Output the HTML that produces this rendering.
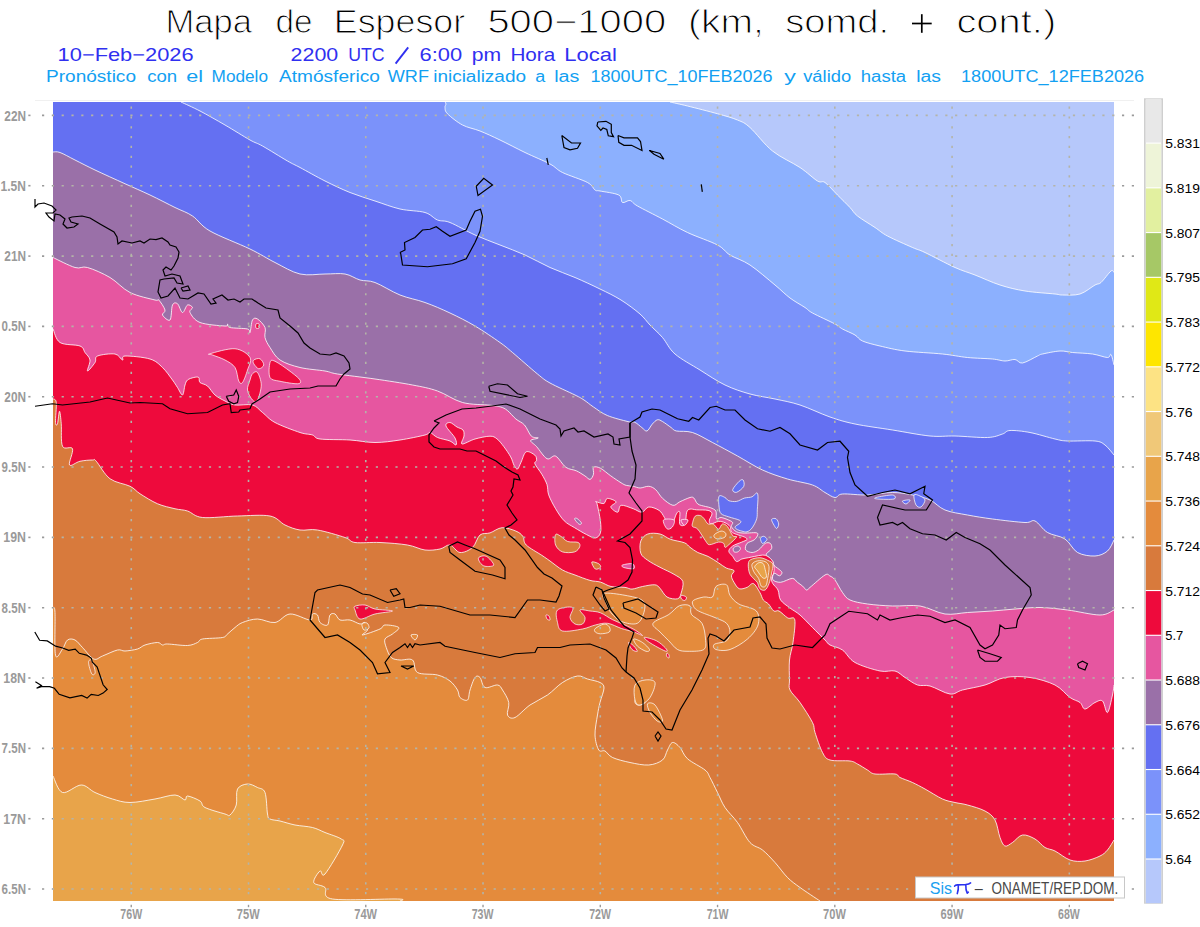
<!DOCTYPE html>
<html><head><meta charset="utf-8"><style>
html,body{margin:0;padding:0;background:#fff;width:1200px;height:927px;overflow:hidden}
svg{display:block}
text{font-family:"Liberation Sans",sans-serif}
</style></head><body>
<svg width="1200" height="927" viewBox="0 0 1200 927">
<rect x="0" y="0" width="1200" height="927" fill="#fff"/>

<text x="165.40" y="33.4" font-size="32.8" fill="#000" textLength="86.60" lengthAdjust="spacingAndGlyphs" stroke="#fff" stroke-width="1.0" paint-order="fill">Mapa</text>
<text x="275.40" y="33.4" font-size="32.8" fill="#000" textLength="37.00" lengthAdjust="spacingAndGlyphs" stroke="#fff" stroke-width="1.0" paint-order="fill">de</text>
<text x="333.80" y="33.4" font-size="32.8" fill="#000" textLength="131.40" lengthAdjust="spacingAndGlyphs" stroke="#fff" stroke-width="1.0" paint-order="fill">Espesor</text>
<text x="487.40" y="33.4" font-size="32.8" fill="#000" textLength="178.80" lengthAdjust="spacingAndGlyphs" stroke="#fff" stroke-width="1.0" paint-order="fill">500−1000</text>
<text x="688.00" y="33.4" font-size="32.8" fill="#000" textLength="76.00" lengthAdjust="spacingAndGlyphs" stroke="#fff" stroke-width="1.0" paint-order="fill">(km,</text>
<text x="785.20" y="33.4" font-size="32.8" fill="#000" textLength="103.80" lengthAdjust="spacingAndGlyphs" stroke="#fff" stroke-width="1.0" paint-order="fill">somd.</text>
<text x="956.40" y="33.4" font-size="32.8" fill="#000" textLength="99.80" lengthAdjust="spacingAndGlyphs" stroke="#fff" stroke-width="1.0" paint-order="fill">cont.)</text>
<text x="57.60" y="60.8" font-size="18.1" fill="#3030f0" textLength="136.00" lengthAdjust="spacingAndGlyphs">10−Feb−2026</text>
<text x="290.60" y="60.8" font-size="18.1" fill="#3030f0" textLength="47.60" lengthAdjust="spacingAndGlyphs">2200</text>
<text x="348.20" y="60.8" font-size="18.1" fill="#3030f0" textLength="36.40" lengthAdjust="spacingAndGlyphs">UTC</text>
<text x="419.60" y="60.8" font-size="18.1" fill="#3030f0" textLength="42.60" lengthAdjust="spacingAndGlyphs">6:00</text>
<text x="471.80" y="60.8" font-size="18.1" fill="#3030f0" textLength="29.40" lengthAdjust="spacingAndGlyphs">pm</text>
<text x="510.40" y="60.8" font-size="18.1" fill="#3030f0" textLength="44.80" lengthAdjust="spacingAndGlyphs">Hora</text>
<text x="564.20" y="60.8" font-size="18.1" fill="#3030f0" textLength="52.60" lengthAdjust="spacingAndGlyphs">Local</text>
<text x="46.00" y="81.9" font-size="15.6" fill="#12a0f2" textLength="90.00" lengthAdjust="spacingAndGlyphs">Pronóstico</text>
<text x="147.20" y="81.9" font-size="15.6" fill="#12a0f2" textLength="30.00" lengthAdjust="spacingAndGlyphs">con</text>
<text x="186.20" y="81.9" font-size="15.6" fill="#12a0f2" textLength="16.80" lengthAdjust="spacingAndGlyphs">el</text>
<text x="211.60" y="81.9" font-size="15.6" fill="#12a0f2" textLength="56.40" lengthAdjust="spacingAndGlyphs">Modelo</text>
<text x="279.00" y="81.9" font-size="15.6" fill="#12a0f2" textLength="100.80" lengthAdjust="spacingAndGlyphs">Atmósferico</text>
<text x="387.80" y="81.9" font-size="15.6" fill="#12a0f2" textLength="41.20" lengthAdjust="spacingAndGlyphs">WRF</text>
<text x="433.20" y="81.9" font-size="15.6" fill="#12a0f2" textLength="92.80" lengthAdjust="spacingAndGlyphs">inicializado</text>
<text x="535.20" y="81.9" font-size="15.6" fill="#12a0f2" textLength="10.00" lengthAdjust="spacingAndGlyphs">a</text>
<text x="554.20" y="81.9" font-size="15.6" fill="#12a0f2" textLength="25.20" lengthAdjust="spacingAndGlyphs">las</text>
<text x="590.60" y="81.9" font-size="15.6" fill="#12a0f2" textLength="182.00" lengthAdjust="spacingAndGlyphs">1800UTC_10FEB2026</text>
<text x="784.20" y="81.9" font-size="15.6" fill="#12a0f2" textLength="11.60" lengthAdjust="spacingAndGlyphs">y</text>
<text x="803.20" y="81.9" font-size="15.6" fill="#12a0f2" textLength="48.00" lengthAdjust="spacingAndGlyphs">válido</text>
<text x="860.80" y="81.9" font-size="15.6" fill="#12a0f2" textLength="45.40" lengthAdjust="spacingAndGlyphs">hasta</text>
<text x="916.20" y="81.9" font-size="15.6" fill="#12a0f2" textLength="24.80" lengthAdjust="spacingAndGlyphs">las</text>
<text x="961.00" y="81.9" font-size="15.6" fill="#12a0f2" textLength="183.20" lengthAdjust="spacingAndGlyphs">1800UTC_12FEB2026</text>
<line x1="912" y1="23.5" x2="931.7" y2="23.5" stroke="#000" stroke-width="1.7"/><line x1="921.8" y1="14.2" x2="921.8" y2="32.8" stroke="#000" stroke-width="1.7"/>
<line x1="395.6" y1="63.6" x2="408.2" y2="47.4" stroke="#3030f0" stroke-width="1.9"/>
<line x1="35" y1="100.5" x2="1134" y2="100.5" stroke="#f0f0f0" stroke-width="1"/>
<g><line x1="41.99" y1="115.4" x2="1134" y2="115.4" stroke="#9a9a9a" stroke-width="1.6" stroke-dasharray="2.2 7.618"/><line x1="28.3" y1="115.4" x2="30.5" y2="115.4" stroke="#9a9a9a" stroke-width="1.6"/><line x1="41.99" y1="185.7" x2="1134" y2="185.7" stroke="#9a9a9a" stroke-width="1.6" stroke-dasharray="2.2 7.618"/><line x1="28.3" y1="185.7" x2="30.5" y2="185.7" stroke="#9a9a9a" stroke-width="1.6"/><line x1="41.99" y1="256.1" x2="1134" y2="256.1" stroke="#9a9a9a" stroke-width="1.6" stroke-dasharray="2.2 7.618"/><line x1="28.3" y1="256.1" x2="30.5" y2="256.1" stroke="#9a9a9a" stroke-width="1.6"/><line x1="41.99" y1="326.4" x2="1134" y2="326.4" stroke="#9a9a9a" stroke-width="1.6" stroke-dasharray="2.2 7.618"/><line x1="28.3" y1="326.4" x2="30.5" y2="326.4" stroke="#9a9a9a" stroke-width="1.6"/><line x1="41.99" y1="396.7" x2="1134" y2="396.7" stroke="#9a9a9a" stroke-width="1.6" stroke-dasharray="2.2 7.618"/><line x1="28.3" y1="396.7" x2="30.5" y2="396.7" stroke="#9a9a9a" stroke-width="1.6"/><line x1="41.99" y1="467.0" x2="1134" y2="467.0" stroke="#9a9a9a" stroke-width="1.6" stroke-dasharray="2.2 7.618"/><line x1="28.3" y1="467.0" x2="30.5" y2="467.0" stroke="#9a9a9a" stroke-width="1.6"/><line x1="41.99" y1="537.4" x2="1134" y2="537.4" stroke="#9a9a9a" stroke-width="1.6" stroke-dasharray="2.2 7.618"/><line x1="28.3" y1="537.4" x2="30.5" y2="537.4" stroke="#9a9a9a" stroke-width="1.6"/><line x1="41.99" y1="607.7" x2="1134" y2="607.7" stroke="#9a9a9a" stroke-width="1.6" stroke-dasharray="2.2 7.618"/><line x1="28.3" y1="607.7" x2="30.5" y2="607.7" stroke="#9a9a9a" stroke-width="1.6"/><line x1="41.99" y1="678.0" x2="1134" y2="678.0" stroke="#9a9a9a" stroke-width="1.6" stroke-dasharray="2.2 7.618"/><line x1="28.3" y1="678.0" x2="30.5" y2="678.0" stroke="#9a9a9a" stroke-width="1.6"/><line x1="41.99" y1="748.4" x2="1134" y2="748.4" stroke="#9a9a9a" stroke-width="1.6" stroke-dasharray="2.2 7.618"/><line x1="28.3" y1="748.4" x2="30.5" y2="748.4" stroke="#9a9a9a" stroke-width="1.6"/><line x1="41.99" y1="818.7" x2="1134" y2="818.7" stroke="#9a9a9a" stroke-width="1.6" stroke-dasharray="2.2 7.618"/><line x1="28.3" y1="818.7" x2="30.5" y2="818.7" stroke="#9a9a9a" stroke-width="1.6"/><line x1="41.99" y1="889.0" x2="1134" y2="889.0" stroke="#9a9a9a" stroke-width="1.6" stroke-dasharray="2.2 7.618"/><line x1="28.3" y1="889.0" x2="30.5" y2="889.0" stroke="#9a9a9a" stroke-width="1.6"/><line x1="131.25" y1="106.60" x2="131.25" y2="901" stroke="#9a9a9a" stroke-width="1.6" stroke-dasharray="2.2 7.618"/><line x1="131.25" y1="904.8" x2="131.25" y2="907.2" stroke="#9a9a9a" stroke-width="1.4"/><line x1="248.51" y1="106.60" x2="248.51" y2="901" stroke="#9a9a9a" stroke-width="1.6" stroke-dasharray="2.2 7.618"/><line x1="248.51" y1="904.8" x2="248.51" y2="907.2" stroke="#9a9a9a" stroke-width="1.4"/><line x1="365.77" y1="106.60" x2="365.77" y2="901" stroke="#9a9a9a" stroke-width="1.6" stroke-dasharray="2.2 7.618"/><line x1="365.77" y1="904.8" x2="365.77" y2="907.2" stroke="#9a9a9a" stroke-width="1.4"/><line x1="483.03" y1="106.60" x2="483.03" y2="901" stroke="#9a9a9a" stroke-width="1.6" stroke-dasharray="2.2 7.618"/><line x1="483.03" y1="904.8" x2="483.03" y2="907.2" stroke="#9a9a9a" stroke-width="1.4"/><line x1="600.29" y1="106.60" x2="600.29" y2="901" stroke="#9a9a9a" stroke-width="1.6" stroke-dasharray="2.2 7.618"/><line x1="600.29" y1="904.8" x2="600.29" y2="907.2" stroke="#9a9a9a" stroke-width="1.4"/><line x1="717.55" y1="106.60" x2="717.55" y2="901" stroke="#9a9a9a" stroke-width="1.6" stroke-dasharray="2.2 7.618"/><line x1="717.55" y1="904.8" x2="717.55" y2="907.2" stroke="#9a9a9a" stroke-width="1.4"/><line x1="834.81" y1="106.60" x2="834.81" y2="901" stroke="#9a9a9a" stroke-width="1.6" stroke-dasharray="2.2 7.618"/><line x1="834.81" y1="904.8" x2="834.81" y2="907.2" stroke="#9a9a9a" stroke-width="1.4"/><line x1="952.07" y1="106.60" x2="952.07" y2="901" stroke="#9a9a9a" stroke-width="1.6" stroke-dasharray="2.2 7.618"/><line x1="952.07" y1="904.8" x2="952.07" y2="907.2" stroke="#9a9a9a" stroke-width="1.4"/><line x1="1069.33" y1="106.60" x2="1069.33" y2="901" stroke="#9a9a9a" stroke-width="1.6" stroke-dasharray="2.2 7.618"/><line x1="1069.33" y1="904.8" x2="1069.33" y2="907.2" stroke="#9a9a9a" stroke-width="1.4"/></g>
<clipPath id="mc"><rect x="53" y="102" width="1061" height="799"/></clipPath>
<g clip-path="url(#mc)">
<rect x="183.20000000000118" y="102" width="930.7999999999988" height="799" fill="#b6c8fb"/>
<path d="M670.00,102.00 C672.92,102.67 679.58,104.04 687.50,106.00 C695.42,107.96 709.17,111.42 717.50,113.75 C725.83,116.08 732.08,117.71 737.50,120.00 C742.92,122.29 744.17,122.33 750.00,127.50 C755.83,132.67 764.17,144.33 772.50,151.00 C780.83,157.67 792.50,162.50 800.00,167.50 C807.50,172.50 813.33,178.50 817.50,181.00 C821.67,183.50 821.67,180.17 825.00,182.50 C828.33,184.83 833.33,190.83 837.50,195.00 C841.67,199.17 846.67,204.00 850.00,207.50 C853.33,211.00 853.33,212.67 857.50,216.00 C861.67,219.33 870.00,224.17 875.00,227.50 C880.00,230.83 881.25,232.67 887.50,236.00 C893.75,239.33 906.25,244.75 912.50,247.50 C918.75,250.25 917.92,249.17 925.00,252.50 C932.08,255.83 946.67,263.75 955.00,267.50 C963.33,271.25 967.50,272.08 975.00,275.00 C982.50,277.92 991.67,282.33 1000.00,285.00 C1008.33,287.67 1015.83,289.50 1025.00,291.00 C1034.17,292.50 1048.75,293.33 1055.00,294.00 C1061.25,294.67 1058.33,295.00 1062.50,295.00 C1066.67,295.00 1074.58,295.67 1080.00,294.00 C1085.42,292.33 1091.50,286.92 1095.00,285.00 C1098.50,283.08 1098.33,284.83 1101.00,282.50 C1103.67,280.17 1108.83,272.67 1111.00,271.00 C1113.17,269.33 1113.50,272.25 1114.00,272.50 L1127,272.5 L1127,915 L40,915 L40,90 L670,90 Z" fill="#8cb0fe" stroke="#fff" stroke-width="1" stroke-opacity="0.8"/>
<path d="M445.00,102.00 C445.17,102.33 446.00,103.08 446.00,104.00 C446.00,104.92 444.75,105.88 445.00,107.50 C445.25,109.12 444.58,110.83 447.50,113.75 C450.42,116.67 457.08,122.12 462.50,125.00 C467.92,127.88 473.75,128.50 480.00,131.00 C486.25,133.50 492.50,136.42 500.00,140.00 C507.50,143.58 516.67,148.50 525.00,152.50 C533.33,156.50 543.75,160.67 550.00,164.00 C556.25,167.33 556.25,169.42 562.50,172.50 C568.75,175.58 582.08,179.58 587.50,182.50 C592.92,185.42 592.92,188.58 595.00,190.00 C597.08,191.42 596.04,190.17 600.00,191.00 C603.96,191.83 615.00,193.08 618.75,195.00 C622.50,196.92 620.62,201.58 622.50,202.50 C624.38,203.42 627.50,199.92 630.00,200.50 C632.50,201.08 632.08,202.92 637.50,206.00 C642.92,209.08 654.17,214.58 662.50,219.00 C670.83,223.42 678.33,228.17 687.50,232.50 C696.67,236.83 710.42,241.25 717.50,245.00 C724.58,248.75 724.58,251.67 730.00,255.00 C735.42,258.33 742.50,260.00 750.00,265.00 C757.50,270.00 768.33,279.50 775.00,285.00 C781.67,290.50 785.00,294.25 790.00,298.00 C795.00,301.75 801.25,305.00 805.00,307.50 C808.75,310.00 807.50,310.25 812.50,313.00 C817.50,315.75 830.00,321.33 835.00,324.00 C840.00,326.67 839.17,327.17 842.50,329.00 C845.83,330.83 851.67,333.00 855.00,335.00 C858.33,337.00 858.33,339.17 862.50,341.00 C866.67,342.83 872.92,344.33 880.00,346.00 C887.08,347.67 894.58,349.67 905.00,351.00 C915.42,352.33 932.08,352.92 942.50,354.00 C952.92,355.08 959.17,356.67 967.50,357.50 C975.83,358.33 986.25,358.42 992.50,359.00 C998.75,359.58 1001.25,360.92 1005.00,361.00 C1008.75,361.08 1012.08,359.17 1015.00,359.50 C1017.92,359.83 1018.75,363.58 1022.50,363.00 C1026.25,362.42 1034.17,357.50 1037.50,356.00 C1040.83,354.50 1038.75,354.83 1042.50,354.00 C1046.25,353.17 1055.00,351.25 1060.00,351.00 C1065.00,350.75 1067.08,352.00 1072.50,352.50 C1077.92,353.00 1086.67,353.17 1092.50,354.00 C1098.33,354.83 1104.42,357.42 1107.50,357.50 C1110.58,357.58 1109.92,353.25 1111.00,354.50 C1112.08,355.75 1113.50,363.25 1114.00,365.00 L1127,365 L1127,915 L40,915 L40,90 L445,90 Z" fill="#7b92fa" stroke="#fff" stroke-width="1" stroke-opacity="0.8"/>
<path d="M181.00,102.00 C184.17,103.50 192.67,107.17 200.00,111.00 C207.33,114.83 216.67,120.17 225.00,125.00 C233.33,129.83 243.75,136.50 250.00,140.00 C256.25,143.50 256.25,142.50 262.50,146.00 C268.75,149.50 281.25,157.42 287.50,161.00 C293.75,164.58 293.75,164.17 300.00,167.50 C306.25,170.83 316.67,176.83 325.00,181.00 C333.33,185.17 341.67,189.17 350.00,192.50 C358.33,195.83 366.67,198.25 375.00,201.00 C383.33,203.75 391.67,207.08 400.00,209.00 C408.33,210.92 418.75,210.67 425.00,212.50 C431.25,214.33 433.33,218.33 437.50,220.00 C441.67,221.67 443.75,220.00 450.00,222.50 C456.25,225.00 466.67,231.25 475.00,235.00 C483.33,238.75 491.67,241.67 500.00,245.00 C508.33,248.33 516.67,251.25 525.00,255.00 C533.33,258.75 541.67,263.75 550.00,267.50 C558.33,271.25 566.67,273.92 575.00,277.50 C583.33,281.08 592.33,285.25 600.00,289.00 C607.67,292.75 614.33,295.83 621.00,300.00 C627.67,304.17 635.17,309.83 640.00,314.00 C644.83,318.17 646.25,321.08 650.00,325.00 C653.75,328.92 658.33,332.67 662.50,337.50 C666.67,342.33 668.75,348.58 675.00,354.00 C681.25,359.42 691.67,364.83 700.00,370.00 C708.33,375.17 716.67,381.00 725.00,385.00 C733.33,389.00 741.67,391.67 750.00,394.00 C758.33,396.33 766.67,397.17 775.00,399.00 C783.33,400.83 790.83,402.00 800.00,405.00 C809.17,408.00 820.83,413.83 830.00,417.00 C839.17,420.17 844.58,421.83 855.00,424.00 C865.42,426.17 880.00,428.00 892.50,430.00 C905.00,432.00 919.58,435.00 930.00,436.00 C940.42,437.00 945.42,435.75 955.00,436.00 C964.58,436.25 979.58,437.83 987.50,437.50 C995.42,437.17 998.75,435.17 1002.50,434.00 C1006.25,432.83 1005.42,430.75 1010.00,430.50 C1014.58,430.25 1022.50,431.08 1030.00,432.50 C1037.50,433.92 1048.75,437.58 1055.00,439.00 C1061.25,440.42 1060.83,440.67 1067.50,441.00 C1074.17,441.33 1088.75,440.33 1095.00,441.00 C1101.25,441.67 1101.83,442.67 1105.00,445.00 C1108.17,447.33 1112.50,453.33 1114.00,455.00 L1127,455 L1127,915 L40,915 L40,90 L181,90 Z" fill="#6470f2" stroke="#fff" stroke-width="1" stroke-opacity="0.8"/>
<path d="M53.00,152.00 C54.17,152.08 56.33,151.17 60.00,152.50 C63.67,153.83 69.17,157.08 75.00,160.00 C80.83,162.92 86.67,166.04 95.00,170.00 C103.33,173.96 115.83,179.58 125.00,183.75 C134.17,187.92 141.67,191.04 150.00,195.00 C158.33,198.96 167.92,204.00 175.00,207.50 C182.08,211.00 186.67,212.08 192.50,216.00 C198.33,219.92 200.42,225.50 210.00,231.00 C219.58,236.50 239.17,243.75 250.00,249.00 C260.83,254.25 266.67,258.33 275.00,262.50 C283.33,266.67 291.67,272.08 300.00,274.00 C308.33,275.92 317.50,274.00 325.00,274.00 C332.50,274.00 339.17,273.00 345.00,274.00 C350.83,275.00 355.00,278.58 360.00,280.00 C365.00,281.42 368.33,280.00 375.00,282.50 C381.67,285.00 391.67,291.67 400.00,295.00 C408.33,298.33 416.67,299.50 425.00,302.50 C433.33,305.50 441.67,309.08 450.00,313.00 C458.33,316.92 466.67,321.08 475.00,326.00 C483.33,330.92 493.75,338.08 500.00,342.50 C506.25,346.92 506.25,347.25 512.50,352.50 C518.75,357.75 531.25,368.92 537.50,374.00 C543.75,379.08 543.75,379.50 550.00,383.00 C556.25,386.50 569.33,392.17 575.00,395.00 C580.67,397.83 580.92,398.00 584.00,400.00 C587.08,402.00 589.62,404.42 593.50,407.00 C597.38,409.58 601.55,413.07 607.30,415.50 C613.05,417.93 623.38,420.45 628.00,421.60 C632.62,422.75 632.68,421.40 635.00,422.40 C637.32,423.40 639.90,426.17 641.90,427.60 C643.90,429.03 645.28,431.57 647.00,431.00 C648.72,430.43 650.47,426.07 652.20,424.20 C653.93,422.33 655.67,420.23 657.40,419.80 C659.13,419.37 660.30,420.30 662.60,421.60 C664.90,422.90 668.90,426.03 671.20,427.60 C673.50,429.17 672.85,430.18 676.40,431.00 C679.95,431.82 686.48,430.58 692.50,432.50 C698.52,434.42 705.00,438.58 712.50,442.50 C720.00,446.42 729.17,451.42 737.50,456.00 C745.83,460.58 754.17,466.17 762.50,470.00 C770.83,473.83 779.17,476.50 787.50,479.00 C795.83,481.50 806.25,482.75 812.50,485.00 C818.75,487.25 821.25,490.42 825.00,492.50 C828.75,494.58 832.08,497.25 835.00,497.50 C837.92,497.75 837.08,494.42 842.50,494.00 C847.92,493.58 859.17,495.25 867.50,495.00 C875.83,494.75 885.00,492.50 892.50,492.50 C900.00,492.50 906.25,493.75 912.50,495.00 C918.75,496.25 924.58,497.50 930.00,500.00 C935.42,502.50 938.75,507.50 945.00,510.00 C951.25,512.50 959.58,513.50 967.50,515.00 C975.42,516.50 982.92,517.75 992.50,519.00 C1002.08,520.25 1017.92,522.17 1025.00,522.50 C1032.08,522.83 1031.25,519.33 1035.00,521.00 C1038.75,522.67 1042.50,529.50 1047.50,532.50 C1052.50,535.50 1060.00,535.67 1065.00,539.00 C1070.00,542.33 1072.50,549.67 1077.50,552.50 C1082.50,555.33 1090.00,556.25 1095.00,556.00 C1100.00,555.75 1104.33,553.67 1107.50,551.00 C1110.67,548.33 1112.92,541.83 1114.00,540.00 L1127,540 L1127,915 L40,915 L40,152 Z" fill="#9a70a8" stroke="#fff" stroke-width="1" stroke-opacity="0.8"/>
<path d="M53.00,257.50 C56.67,259.17 69.25,265.83 75.00,267.50 C80.75,269.17 81.67,265.83 87.50,267.50 C93.33,269.17 102.92,273.33 110.00,277.50 C117.08,281.67 122.50,288.75 130.00,292.50 C137.50,296.25 150.21,298.75 155.00,300.00 C159.79,301.25 157.08,298.33 158.75,300.00 C160.42,301.67 164.38,307.50 165.00,310.00 C165.62,312.50 161.67,313.33 162.50,315.00 C163.33,316.67 168.33,321.67 170.00,320.00 C171.67,318.33 171.25,307.71 172.50,305.00 C173.75,302.29 175.83,302.50 177.50,303.75 C179.17,305.00 180.83,312.29 182.50,312.50 C184.17,312.71 185.83,305.83 187.50,305.00 C189.17,304.17 192.08,306.25 192.50,307.50 C192.92,308.75 188.75,310.00 190.00,312.50 C191.25,315.00 194.17,320.25 200.00,322.50 C205.83,324.75 220.42,325.75 225.00,326.00 C229.58,326.25 226.67,323.75 227.50,324.00 C228.33,324.25 226.67,326.67 230.00,327.50 C233.33,328.33 244.17,328.17 247.50,329.00 C250.83,329.83 249.17,334.00 250.00,332.50 C250.83,331.00 251.25,322.25 252.50,320.00 C253.75,317.75 255.42,317.75 257.50,319.00 C259.58,320.25 263.75,324.42 265.00,327.50 C266.25,330.58 264.17,334.17 265.00,337.50 C265.83,340.83 267.50,343.75 270.00,347.50 C272.50,351.25 275.00,356.67 280.00,360.00 C285.00,363.33 292.50,365.67 300.00,367.50 C307.50,369.33 318.75,369.92 325.00,371.00 C331.25,372.08 329.17,372.67 337.50,374.00 C345.83,375.33 362.50,377.17 375.00,379.00 C387.50,380.83 402.08,383.00 412.50,385.00 C422.92,387.00 429.17,388.08 437.50,391.00 C445.83,393.92 453.75,400.13 462.50,402.50 C471.25,404.87 483.68,404.47 490.00,405.20 C496.32,405.93 497.52,406.03 500.40,406.90 C503.28,407.77 504.72,408.38 507.30,410.40 C509.88,412.42 513.03,416.57 515.90,419.00 C518.77,421.43 521.92,422.13 524.50,425.00 C527.08,427.87 529.10,434.03 531.40,436.20 C533.70,438.37 538.43,437.27 538.30,438.00 C538.17,438.73 530.88,439.17 530.60,440.60 C530.32,442.03 533.87,443.58 536.60,446.60 C539.33,449.62 543.83,457.12 547.00,458.70 C550.17,460.28 552.45,454.67 555.60,456.10 C558.75,457.53 562.45,464.85 565.90,467.30 C569.35,469.75 573.13,469.37 576.30,470.80 C579.47,472.23 582.60,474.47 584.90,475.90 C587.20,477.33 588.67,479.68 590.10,479.40 C591.53,479.12 592.93,476.22 593.50,474.20 C594.07,472.18 592.35,468.30 593.50,467.30 C594.65,466.30 597.52,466.77 600.40,468.20 C603.28,469.63 607.35,473.47 610.80,475.90 C614.25,478.33 618.52,481.22 621.10,482.80 C623.68,484.38 624.28,484.82 626.30,485.40 C628.32,485.98 630.90,485.87 633.20,486.30 C635.50,486.73 637.50,488.00 640.10,488.00 C642.70,488.00 646.20,486.02 648.80,486.30 C651.40,486.58 653.40,487.68 655.70,489.70 C658.00,491.72 659.73,495.80 662.60,498.40 C665.47,501.00 670.03,504.73 672.90,505.30 C675.77,505.87 676.95,503.10 679.80,501.80 C682.65,500.50 687.65,498.12 690.00,497.50 C692.35,496.88 692.60,497.02 693.90,498.10 C695.20,499.18 695.87,502.60 697.80,504.00 C699.73,505.40 703.35,505.87 705.50,506.50 C707.65,507.13 708.97,507.03 710.70,507.80 C712.43,508.57 714.93,509.27 715.90,511.10 C716.87,512.93 715.63,517.73 716.50,518.80 C717.37,519.87 719.05,517.28 721.10,517.50 C723.15,517.72 726.87,519.23 728.80,520.10 C730.73,520.97 732.27,521.62 732.70,522.70 C733.13,523.78 730.75,525.08 731.40,526.60 C732.05,528.12 734.43,530.72 736.60,531.80 C738.77,532.88 740.95,532.88 744.40,533.10 C747.85,533.32 755.58,532.03 757.30,533.10 C759.02,534.17 756.42,537.78 754.70,539.50 C752.98,541.22 748.50,541.67 747.00,543.40 C745.50,545.13 744.85,548.38 745.70,549.90 C746.55,551.42 749.95,552.50 752.10,552.50 C754.25,552.50 756.43,551.42 758.60,549.90 C760.77,548.38 763.15,544.48 765.10,543.40 C767.05,542.32 769.22,542.53 770.30,543.40 C771.38,544.27 772.25,546.87 771.60,548.60 C770.95,550.33 767.05,552.50 766.40,553.80 C765.75,555.10 766.63,555.10 767.70,556.40 C768.77,557.70 771.73,560.10 772.80,561.60 C773.87,563.10 772.80,563.90 774.10,565.40 C775.40,566.90 779.30,569.30 780.60,570.60 C781.90,571.90 782.12,572.33 781.90,573.20 C781.68,574.07 780.60,575.80 779.30,575.80 C778.00,575.80 775.18,572.55 774.10,573.20 C773.02,573.85 771.72,578.18 772.80,579.70 C773.88,581.22 777.35,582.52 780.60,582.30 C783.85,582.08 789.50,578.40 792.30,578.40 C795.10,578.40 795.68,581.02 797.40,582.30 C799.12,583.58 801.08,584.82 802.60,586.10 C804.12,587.38 805.27,589.78 806.50,590.00 C807.73,590.22 806.92,589.90 810.00,587.40 C813.08,584.90 821.67,576.90 825.00,575.00 C828.33,573.10 828.33,575.17 830.00,576.00 C831.67,576.83 832.92,577.25 835.00,580.00 C837.08,582.75 840.00,589.17 842.50,592.50 C845.00,595.83 845.83,598.08 850.00,600.00 C854.17,601.92 860.42,603.00 867.50,604.00 C874.58,605.00 883.75,605.67 892.50,606.00 C901.25,606.33 911.25,604.67 920.00,606.00 C928.75,607.33 937.08,612.92 945.00,614.00 C952.92,615.08 959.58,613.00 967.50,612.50 C975.42,612.00 984.58,611.58 992.50,611.00 C1000.42,610.42 1007.08,609.58 1015.00,609.00 C1022.92,608.42 1031.25,607.33 1040.00,607.50 C1048.75,607.67 1057.50,608.75 1067.50,610.00 C1077.50,611.25 1092.25,615.00 1100.00,615.00 C1107.75,615.00 1111.67,610.83 1114.00,610.00 L1127,610 L1127,915 L40,915 L40,257.5 Z" fill="#e656a0" stroke="#fff" stroke-width="1" stroke-opacity="0.8"/>
<path d="M53.00,328.75 C54.17,331.04 55.50,339.62 60.00,342.50 C64.50,345.38 75.83,344.33 80.00,346.00 C84.17,347.67 83.33,350.17 85.00,352.50 C86.67,354.83 89.58,356.92 90.00,360.00 C90.42,363.08 86.67,370.58 87.50,371.00 C88.33,371.42 93.33,365.00 95.00,362.50 C96.67,360.00 94.17,357.42 97.50,356.00 C100.83,354.58 110.83,353.33 115.00,354.00 C119.17,354.67 120.83,359.67 122.50,360.00 C124.17,360.33 120.42,356.17 125.00,356.00 C129.58,355.83 143.75,357.08 150.00,359.00 C156.25,360.92 158.75,364.00 162.50,367.50 C166.25,371.00 170.00,376.67 172.50,380.00 C175.00,383.33 175.83,385.00 177.50,387.50 C179.17,390.00 181.25,395.42 182.50,395.00 C183.75,394.58 184.17,387.50 185.00,385.00 C185.83,382.50 186.04,381.25 187.50,380.00 C188.96,378.75 191.88,377.92 193.75,377.50 C195.62,377.08 197.71,376.67 198.75,377.50 C199.79,378.33 198.54,381.08 200.00,382.50 C201.46,383.92 205.00,383.92 207.50,386.00 C210.00,388.08 212.08,392.50 215.00,395.00 C217.92,397.50 221.67,399.33 225.00,401.00 C228.33,402.67 230.42,404.33 235.00,405.00 C239.58,405.67 247.92,403.75 252.50,405.00 C257.08,406.25 258.75,409.58 262.50,412.50 C266.25,415.42 268.75,419.17 275.00,422.50 C281.25,425.83 293.75,430.42 300.00,432.50 C306.25,434.58 309.17,433.92 312.50,435.00 C315.83,436.08 313.75,438.17 320.00,439.00 C326.25,439.83 340.83,439.42 350.00,440.00 C359.17,440.58 366.67,442.50 375.00,442.50 C383.33,442.50 391.67,441.25 400.00,440.00 C408.33,438.75 420.00,436.25 425.00,435.00 C430.00,433.75 427.92,432.08 430.00,432.50 C432.08,432.92 434.17,436.08 437.50,437.50 C440.83,438.92 446.92,439.75 450.00,441.00 C453.08,442.25 455.17,445.50 456.00,445.00 C456.83,444.50 456.67,441.17 455.00,438.00 C453.33,434.83 446.83,428.58 446.00,426.00 C445.17,423.42 448.17,422.33 450.00,422.50 C451.83,422.67 454.83,425.75 457.00,427.00 C459.17,428.25 461.83,428.50 463.00,430.00 C464.17,431.50 464.17,433.67 464.00,436.00 C463.83,438.33 460.17,443.50 462.00,444.00 C463.83,444.50 470.33,440.30 475.00,439.00 C479.67,437.70 486.35,436.23 490.00,436.20 C493.65,436.17 494.60,437.07 496.90,438.80 C499.20,440.53 501.50,443.58 503.80,446.60 C506.10,449.62 508.97,453.73 510.70,456.90 C512.43,460.07 513.05,463.58 514.20,465.60 C515.35,467.62 516.45,469.58 517.60,469.00 C518.75,468.42 519.67,464.97 521.10,462.10 C522.53,459.23 523.90,452.95 526.20,451.80 C528.50,450.65 533.17,453.77 534.90,455.20 C536.63,456.63 536.60,458.97 536.60,460.40 C536.60,461.83 534.03,461.50 534.90,463.80 C535.77,466.10 539.78,470.73 541.80,474.20 C543.82,477.67 545.85,481.15 547.00,484.60 C548.15,488.05 547.27,490.88 548.70,494.90 C550.13,498.92 553.02,504.38 555.60,508.70 C558.18,513.02 561.03,517.63 564.20,520.80 C567.37,523.97 570.87,525.40 574.60,527.70 C578.33,530.00 583.15,532.88 586.60,534.60 C590.05,536.32 593.00,538.28 595.30,538.00 C597.60,537.72 599.55,535.77 600.40,532.90 C601.25,530.03 600.97,525.70 600.40,520.80 C599.83,515.90 597.72,506.67 597.00,503.50 C596.28,500.33 594.95,501.80 596.10,501.80 C597.25,501.80 602.03,504.07 603.90,503.50 C605.77,502.93 605.28,498.68 607.30,498.40 C609.32,498.12 615.42,500.37 616.00,501.80 C616.58,503.23 610.52,505.27 610.80,507.00 C611.08,508.73 615.98,512.48 617.70,512.20 C619.42,511.92 618.52,505.88 621.10,505.30 C623.68,504.72 629.73,507.55 633.20,508.70 C636.67,509.85 639.30,512.48 641.90,512.20 C644.50,511.92 645.93,507.30 648.80,507.00 C651.67,506.70 656.52,508.68 659.10,510.40 C661.68,512.12 662.87,515.00 664.30,517.30 C665.73,519.60 666.55,522.47 667.70,524.20 C668.85,525.93 669.75,529.42 671.20,527.70 C672.65,525.98 674.97,516.48 676.40,513.90 C677.83,511.32 679.23,510.48 679.80,512.20 C680.37,513.92 678.93,522.20 679.80,524.20 C680.67,526.20 683.85,526.20 685.00,524.20 C686.15,522.20 685.87,514.72 686.70,512.20 C687.53,509.68 688.37,509.50 690.00,509.10 C691.63,508.70 693.48,509.58 696.50,509.80 C699.52,510.02 705.52,509.75 708.10,510.40 C710.68,511.05 711.78,512.08 712.00,513.70 C712.22,515.32 709.62,518.38 709.40,520.10 C709.18,521.82 709.18,523.78 710.70,524.00 C712.22,524.22 716.12,521.62 718.50,521.40 C720.88,521.18 723.07,521.83 725.00,522.70 C726.93,523.57 729.03,525.08 730.10,526.60 C731.17,528.12 730.32,530.50 731.40,531.80 C732.48,533.10 734.43,533.53 736.60,534.40 C738.77,535.27 742.67,536.15 744.40,537.00 C746.13,537.85 747.43,538.65 747.00,539.50 C746.57,540.35 744.18,541.02 741.80,542.10 C739.42,543.18 734.87,544.48 732.70,546.00 C730.53,547.52 728.80,549.47 728.80,551.20 C728.80,552.93 731.40,554.67 732.70,556.40 C734.00,558.13 735.08,561.17 736.60,561.60 C738.12,562.03 739.85,559.65 741.80,559.00 C743.75,558.35 746.15,558.13 748.30,557.70 C750.45,557.27 752.33,556.83 754.70,556.40 C757.07,555.97 760.33,555.10 762.50,555.10 C764.67,555.10 765.98,555.32 767.70,556.40 C769.42,557.48 771.73,559.23 772.80,561.60 C773.87,563.97 774.30,567.80 774.10,570.60 C773.90,573.40 771.82,576.23 771.60,578.40 C771.38,580.57 771.73,581.67 772.80,583.60 C773.87,585.53 776.70,587.27 778.00,590.00 C779.30,592.73 778.60,597.00 780.60,600.00 C782.60,603.00 786.77,605.50 790.00,608.00 C793.23,610.50 796.25,611.75 800.00,615.00 C803.75,618.25 808.33,623.33 812.50,627.50 C816.67,631.67 822.08,637.08 825.00,640.00 C827.92,642.92 827.08,643.33 830.00,645.00 C832.92,646.67 838.33,647.08 842.50,650.00 C846.67,652.92 848.75,659.00 855.00,662.50 C861.25,666.00 873.33,669.58 880.00,671.00 C886.67,672.42 890.83,669.92 895.00,671.00 C899.17,672.08 901.25,675.17 905.00,677.50 C908.75,679.83 913.33,683.58 917.50,685.00 C921.67,686.42 924.58,684.50 930.00,686.00 C935.42,687.50 944.58,693.33 950.00,694.00 C955.42,694.67 956.67,691.50 962.50,690.00 C968.33,688.50 977.92,687.08 985.00,685.00 C992.08,682.92 997.50,678.75 1005.00,677.50 C1012.50,676.25 1021.67,676.25 1030.00,677.50 C1038.33,678.75 1048.33,681.67 1055.00,685.00 C1061.67,688.33 1065.83,694.58 1070.00,697.50 C1074.17,700.42 1077.50,700.58 1080.00,702.50 C1082.50,704.42 1082.50,709.00 1085.00,709.00 C1087.50,709.00 1092.08,703.83 1095.00,702.50 C1097.92,701.17 1100.42,699.33 1102.50,701.00 C1104.58,702.67 1105.83,713.50 1107.50,712.50 C1109.17,711.50 1111.42,699.58 1112.50,695.00 C1113.58,690.42 1113.75,686.67 1114.00,685.00 L1127,685 L1127,915 L40,915 L40,328.75 Z" fill="#ee0a3c" stroke="#fff" stroke-width="1" stroke-opacity="0.8"/>
<path d="M53.00,398.75 C53.54,399.38 55.83,398.54 56.25,402.50 C56.67,406.46 55.29,418.96 55.50,422.50 C55.71,426.04 56.83,425.62 57.50,423.75 C58.17,421.88 58.88,411.25 59.50,411.25 C60.12,411.25 60.75,417.92 61.25,423.75 C61.75,429.58 60.62,442.08 62.50,446.25 C64.38,450.42 71.33,445.62 72.50,448.75 C73.67,451.88 68.25,462.92 69.50,465.00 C70.75,467.08 76.17,462.08 80.00,461.25 C83.83,460.42 89.79,460.00 92.50,460.00 C95.21,460.00 93.33,458.12 96.25,461.25 C99.17,464.38 104.38,474.58 110.00,478.75 C115.62,482.92 125.00,483.75 130.00,486.25 C135.00,488.75 135.42,490.83 140.00,493.75 C144.58,496.67 151.67,501.25 157.50,503.75 C163.33,506.25 170.00,507.54 175.00,508.75 C180.00,509.96 182.92,509.54 187.50,511.00 C192.08,512.46 194.17,516.67 202.50,517.50 C210.83,518.33 226.25,516.25 237.50,516.00 C248.75,515.75 262.08,514.50 270.00,516.00 C277.92,517.50 280.00,522.67 285.00,525.00 C290.00,527.33 294.58,529.17 300.00,530.00 C305.42,530.83 310.00,528.75 317.50,530.00 C325.00,531.25 338.75,535.42 345.00,537.50 C351.25,539.58 349.17,541.67 355.00,542.50 C360.83,543.33 371.25,542.08 380.00,542.50 C388.75,542.92 400.00,543.75 407.50,545.00 C415.00,546.25 419.58,549.33 425.00,550.00 C430.42,550.67 435.83,549.83 440.00,549.00 C444.17,548.17 446.67,544.42 450.00,545.00 C453.33,545.58 456.25,552.08 460.00,552.50 C463.75,552.92 469.17,550.42 472.50,547.50 C475.83,544.58 477.08,537.43 480.00,535.00 C482.92,532.57 486.32,534.12 490.00,532.90 C493.68,531.68 497.78,528.00 502.10,527.70 C506.42,527.40 512.45,529.67 515.90,531.10 C519.35,532.53 521.08,533.98 522.80,536.30 C524.52,538.62 523.03,541.83 526.20,545.00 C529.37,548.17 537.83,552.63 541.80,555.30 C545.77,557.97 546.55,558.55 550.00,561.00 C553.45,563.45 558.33,567.67 562.50,570.00 C566.67,572.33 570.42,573.27 575.00,575.00 C579.58,576.73 585.75,579.22 590.00,580.40 C594.25,581.58 597.00,581.08 600.50,582.10 C604.00,583.12 606.92,585.62 611.00,586.50 C615.08,587.38 621.50,586.97 625.00,587.40 C628.50,587.83 629.08,589.25 632.00,589.10 C634.92,588.95 638.70,587.22 642.50,586.50 C646.30,585.78 651.88,584.50 654.80,584.80 C657.72,585.10 657.97,586.27 660.00,588.30 C662.03,590.33 664.08,595.25 667.00,597.00 C669.92,598.75 675.17,599.38 677.50,598.80 C679.83,598.22 680.12,596.42 681.00,593.50 C681.88,590.58 683.97,584.50 682.80,581.30 C681.63,578.10 677.80,576.63 674.00,574.30 C670.20,571.97 664.37,569.63 660.00,567.30 C655.63,564.97 651.00,562.63 647.80,560.30 C644.60,557.97 641.97,556.52 640.80,553.30 C639.63,550.08 639.63,544.22 640.80,541.00 C641.97,537.78 644.60,535.17 647.80,534.00 C651.00,532.83 656.22,533.12 660.00,534.00 C663.78,534.88 666.42,537.83 670.50,539.30 C674.58,540.77 681.25,541.47 684.50,542.80 C687.75,544.13 687.78,545.68 690.00,547.30 C692.22,548.92 694.78,550.98 697.80,552.50 C700.82,554.02 704.65,554.68 708.10,556.40 C711.55,558.12 715.48,560.87 718.50,562.80 C721.52,564.73 723.62,566.70 726.20,568.00 C728.78,569.30 733.13,569.30 734.00,570.60 C734.87,571.90 731.40,573.85 731.40,575.80 C731.40,577.75 732.70,580.15 734.00,582.30 C735.30,584.45 737.03,587.85 739.20,588.70 C741.37,589.55 744.63,588.25 747.00,587.40 C749.37,586.55 751.25,582.73 753.40,583.60 C755.55,584.47 758.25,589.87 759.90,592.60 C761.55,595.33 761.87,598.10 763.30,600.00 C764.73,601.90 766.75,602.17 768.50,604.00 C770.25,605.83 772.05,609.83 773.80,611.00 C775.55,612.17 776.67,609.83 779.00,611.00 C781.33,612.17 785.17,616.53 787.80,618.00 C790.43,619.47 793.93,615.72 794.80,619.80 C795.67,623.88 793.88,635.80 793.00,642.50 C792.12,649.20 790.08,653.75 789.50,660.00 C788.92,666.25 789.42,675.00 789.50,680.00 C789.58,685.00 788.25,686.25 790.00,690.00 C791.75,693.75 796.25,697.08 800.00,702.50 C803.75,707.92 810.00,717.50 812.50,722.50 C815.00,727.50 813.33,727.50 815.00,732.50 C816.67,737.50 820.00,747.92 822.50,752.50 C825.00,757.08 825.42,758.58 830.00,760.00 C834.58,761.42 845.42,760.33 850.00,761.00 C854.58,761.67 854.58,762.50 857.50,764.00 C860.42,765.50 864.58,768.33 867.50,770.00 C870.42,771.67 870.42,773.33 875.00,774.00 C879.58,774.67 890.83,773.42 895.00,774.00 C899.17,774.58 897.08,776.08 900.00,777.50 C902.92,778.92 908.33,780.58 912.50,782.50 C916.67,784.42 920.00,786.25 925.00,789.00 C930.00,791.75 937.50,796.75 942.50,799.00 C947.50,801.25 950.83,801.50 955.00,802.50 C959.17,803.50 962.50,803.58 967.50,805.00 C972.50,806.42 980.42,808.50 985.00,811.00 C989.58,813.50 992.50,815.58 995.00,820.00 C997.50,824.42 998.33,833.17 1000.00,837.50 C1001.67,841.83 1002.92,845.17 1005.00,846.00 C1007.08,846.83 1009.58,844.33 1012.50,842.50 C1015.42,840.67 1018.75,835.58 1022.50,835.00 C1026.25,834.42 1031.25,836.92 1035.00,839.00 C1038.75,841.08 1041.67,845.50 1045.00,847.50 C1048.33,849.50 1050.83,848.92 1055.00,851.00 C1059.17,853.08 1065.00,858.33 1070.00,860.00 C1075.00,861.67 1080.00,861.67 1085.00,861.00 C1090.00,860.33 1096.25,857.83 1100.00,856.00 C1103.75,854.17 1105.17,852.67 1107.50,850.00 C1109.83,847.33 1112.92,841.67 1114.00,840.00 L1127,840 L1127,915 L40,915 L40,398.75 Z" fill="#d87a3c" stroke="#fff" stroke-width="1" stroke-opacity="0.8"/>
<path d="M53.00,607.50 C53.33,608.33 54.58,604.58 55.00,612.50 C55.42,620.42 54.25,648.92 55.50,655.00 C56.75,661.08 60.50,651.50 62.50,649.00 C64.50,646.50 65.42,641.50 67.50,640.00 C69.58,638.50 72.50,638.75 75.00,640.00 C77.50,641.25 79.38,644.33 82.50,647.50 C85.62,650.67 90.42,657.58 93.75,659.00 C97.08,660.42 98.54,657.50 102.50,656.00 C106.46,654.50 113.75,650.83 117.50,650.00 C121.25,649.17 121.67,651.17 125.00,651.00 C128.33,650.83 134.17,650.00 137.50,649.00 C140.83,648.00 141.67,646.08 145.00,645.00 C148.33,643.92 154.58,642.50 157.50,642.50 C160.42,642.50 160.83,644.75 162.50,645.00 C164.17,645.25 163.33,643.92 167.50,644.00 C171.67,644.08 182.50,645.75 187.50,645.50 C192.50,645.25 195.00,643.58 197.50,642.50 C200.00,641.42 198.33,639.83 202.50,639.00 C206.67,638.17 218.33,638.33 222.50,637.50 C226.67,636.67 225.42,635.67 227.50,634.00 C229.58,632.33 232.50,629.42 235.00,627.50 C237.50,625.58 238.75,623.92 242.50,622.50 C246.25,621.08 252.08,619.00 257.50,619.00 C262.92,619.00 269.58,623.33 275.00,622.50 C280.42,621.67 284.17,614.42 290.00,614.00 C295.83,613.58 306.25,620.00 310.00,620.00 C313.75,620.00 311.25,614.83 312.50,614.00 C313.75,613.17 316.25,613.58 317.50,615.00 C318.75,616.42 318.33,620.83 320.00,622.50 C321.67,624.17 325.83,626.25 327.50,625.00 C329.17,623.75 328.75,616.83 330.00,615.00 C331.25,613.17 333.33,613.17 335.00,614.00 C336.67,614.83 337.50,619.00 340.00,620.00 C342.50,621.00 346.67,619.33 350.00,620.00 C353.33,620.67 357.50,623.58 360.00,624.00 C362.50,624.42 363.75,621.50 365.00,622.50 C366.25,623.50 367.92,627.92 367.50,630.00 C367.08,632.08 360.42,635.17 362.50,635.00 C364.58,634.83 376.25,630.67 380.00,629.00 C383.75,627.33 381.88,625.25 385.00,625.00 C388.12,624.75 397.50,626.00 398.75,627.50 C400.00,629.00 394.79,632.08 392.50,634.00 C390.21,635.92 386.04,636.75 385.00,639.00 C383.96,641.25 385.21,644.42 386.25,647.50 C387.29,650.58 388.96,655.42 391.25,657.50 C393.54,659.58 396.46,659.58 400.00,660.00 C403.54,660.42 409.58,657.92 412.50,660.00 C415.42,662.08 413.33,670.00 417.50,672.50 C421.67,675.00 432.08,673.58 437.50,675.00 C442.92,676.42 446.67,678.50 450.00,681.00 C453.33,683.50 455.83,687.25 457.50,690.00 C459.17,692.75 458.33,695.83 460.00,697.50 C461.67,699.17 465.83,701.25 467.50,700.00 C469.17,698.75 468.75,693.75 470.00,690.00 C471.25,686.25 473.33,679.58 475.00,677.50 C476.67,675.42 478.33,675.83 480.00,677.50 C481.67,679.17 482.08,686.25 485.00,687.50 C487.92,688.75 494.58,684.58 497.50,685.00 C500.42,685.42 500.62,687.08 502.50,690.00 C504.38,692.92 507.92,698.33 508.75,702.50 C509.58,706.67 506.46,712.50 507.50,715.00 C508.54,717.50 511.25,719.17 515.00,717.50 C518.75,715.83 524.58,708.75 530.00,705.00 C535.42,701.25 542.08,698.75 547.50,695.00 C552.92,691.25 557.50,685.67 562.50,682.50 C567.50,679.33 573.33,676.58 577.50,676.00 C581.67,675.42 583.75,677.92 587.50,679.00 C591.25,680.08 597.25,681.00 600.00,682.50 C602.75,684.00 604.00,684.67 604.00,688.00 C604.00,691.33 601.08,698.00 600.00,702.50 C598.92,707.00 598.33,709.58 597.50,715.00 C596.67,720.42 594.79,729.17 595.00,735.00 C595.21,740.83 597.08,747.33 598.75,750.00 C600.42,752.67 602.71,749.75 605.00,751.00 C607.29,752.25 608.33,755.58 612.50,757.50 C616.67,759.42 623.96,761.25 630.00,762.50 C636.04,763.75 643.33,765.42 648.75,765.00 C654.17,764.58 659.38,762.50 662.50,760.00 C665.62,757.50 665.83,752.92 667.50,750.00 C669.17,747.08 670.42,742.92 672.50,742.50 C674.58,742.08 677.50,744.79 680.00,747.50 C682.50,750.21 683.33,755.00 687.50,758.75 C691.67,762.50 701.25,766.88 705.00,770.00 C708.75,773.12 707.92,773.75 710.00,777.50 C712.08,781.25 715.00,787.50 717.50,792.50 C720.00,797.50 721.67,802.50 725.00,807.50 C728.33,812.50 733.33,816.67 737.50,822.50 C741.67,828.33 745.83,837.92 750.00,842.50 C754.17,847.08 758.33,846.67 762.50,850.00 C766.67,853.33 770.83,857.92 775.00,862.50 C779.17,867.08 783.33,873.33 787.50,877.50 C791.67,881.67 794.58,883.58 800.00,887.50 C805.42,891.42 816.67,898.75 820.00,901.00 L820,915 L40,915 L40,607.5 Z" fill="#e48b3c" stroke="#fff" stroke-width="1" stroke-opacity="0.8"/>
<path d="M53.00,776.00 C54.58,778.75 57.79,791.00 62.50,792.50 C67.21,794.00 75.83,785.00 81.25,785.00 C86.67,785.00 89.79,790.17 95.00,792.50 C100.21,794.83 106.67,797.33 112.50,799.00 C118.33,800.67 122.92,802.50 130.00,802.50 C137.08,802.50 147.50,800.25 155.00,799.00 C162.50,797.75 170.00,794.83 175.00,795.00 C180.00,795.17 182.92,799.83 185.00,800.00 C187.08,800.17 185.00,795.83 187.50,796.00 C190.00,796.17 197.08,799.08 200.00,801.00 C202.92,802.92 200.83,805.33 205.00,807.50 C209.17,809.67 220.83,812.75 225.00,814.00 C229.17,815.25 228.12,816.50 230.00,815.00 C231.88,813.50 235.00,809.33 236.25,805.00 C237.50,800.67 235.62,792.50 237.50,789.00 C239.38,785.50 244.17,784.25 247.50,784.00 C250.83,783.75 254.58,786.08 257.50,787.50 C260.42,788.92 263.33,788.08 265.00,792.50 C266.67,796.92 266.67,809.58 267.50,814.00 C268.33,818.42 267.92,817.83 270.00,819.00 C272.08,820.17 275.83,820.00 280.00,821.00 C284.17,822.00 289.58,823.92 295.00,825.00 C300.42,826.08 307.50,826.25 312.50,827.50 C317.50,828.75 320.21,830.58 325.00,832.50 C329.79,834.42 338.33,836.92 341.25,839.00 C344.17,841.08 345.21,839.17 342.50,845.00 C339.79,850.83 328.75,869.67 325.00,874.00 C321.25,878.33 321.88,869.58 320.00,871.00 C318.12,872.42 312.92,879.75 313.75,882.50 C314.58,885.25 321.88,884.75 325.00,887.50 C328.12,890.25 320.42,897.08 332.50,899.00 C344.58,900.92 386.25,898.67 397.50,899.00 C408.75,899.33 399.58,900.67 400.00,901.00 L400,915 L40,915 L40,776 Z" fill="#e8a44a" stroke="#fff" stroke-width="1" stroke-opacity="0.8"/>
<path d="M210.00,353.75 C213.75,352.71 228.33,348.12 235.00,348.75 C241.67,349.38 247.92,353.96 250.00,357.50 C252.08,361.04 248.75,365.83 247.50,370.00 C246.25,374.17 243.96,380.67 242.50,382.50 C241.04,384.33 240.00,383.50 238.75,381.00 C237.50,378.50 237.29,371.00 235.00,367.50 C232.71,364.00 228.75,362.08 225.00,360.00 C221.25,357.92 215.00,356.04 212.50,355.00 C210.00,353.96 206.25,354.79 210.00,353.75 Z" fill="#ee0a3c" stroke="#fff" stroke-width="0.9" stroke-opacity="0.8"/>
<path d="M253.75,360.00 C254.79,359.17 258.33,357.92 260.00,358.75 C261.67,359.58 263.96,363.33 263.75,365.00 C263.54,366.67 260.42,368.96 258.75,368.75 C257.08,368.54 254.58,365.21 253.75,363.75 C252.92,362.29 252.71,360.83 253.75,360.00 Z" fill="#ee0a3c" stroke="#fff" stroke-width="0.9" stroke-opacity="0.8"/>
<path d="M270.00,362.50 C270.83,359.79 271.67,359.79 275.00,361.25 C278.33,362.71 285.83,368.12 290.00,371.25 C294.17,374.38 298.75,377.92 300.00,380.00 C301.25,382.08 300.83,383.54 297.50,383.75 C294.17,383.96 284.58,382.29 280.00,381.25 C275.42,380.21 271.67,380.62 270.00,377.50 C268.33,374.38 269.17,365.21 270.00,362.50 Z" fill="#ee0a3c" stroke="#fff" stroke-width="0.9" stroke-opacity="0.8"/>
<path d="M252.50,373.75 C253.75,372.50 256.04,370.62 257.50,372.50 C258.96,374.38 261.25,380.42 261.25,385.00 C261.25,389.58 258.96,397.50 257.50,400.00 C256.04,402.50 254.17,401.67 252.50,400.00 C250.83,398.33 247.92,393.33 247.50,390.00 C247.08,386.67 249.17,382.71 250.00,380.00 C250.83,377.29 251.25,375.00 252.50,373.75 Z" fill="#ee0a3c" stroke="#fff" stroke-width="0.9" stroke-opacity="0.8"/>
<path d="M256.00,324.00 C256.50,323.33 258.50,323.33 259.00,324.00 C259.50,324.67 259.50,327.33 259.00,328.00 C258.50,328.67 256.50,328.67 256.00,328.00 C255.50,327.33 255.50,324.67 256.00,324.00 Z" fill="#ee0a3c" stroke="#fff" stroke-width="0.9" stroke-opacity="0.8"/>
<path d="M719.10,496.20 C720.08,494.58 723.38,496.75 725.00,497.50 C726.62,498.25 726.87,500.05 728.80,500.70 C730.73,501.35 734.00,501.83 736.60,501.40 C739.20,500.97 741.82,498.87 744.40,498.10 C746.98,497.33 750.05,497.67 752.10,496.80 C754.15,495.93 755.72,492.90 756.70,492.90 C757.68,492.90 757.90,493.98 758.00,496.80 C758.10,499.62 757.52,506.13 757.30,509.80 C757.08,513.47 757.57,515.78 756.70,518.80 C755.83,521.82 753.72,525.73 752.10,527.90 C750.48,530.07 748.72,531.27 747.00,531.80 C745.28,532.33 743.53,531.53 741.80,531.10 C740.07,530.67 737.68,529.95 736.60,529.20 C735.52,528.45 734.65,527.68 735.30,526.60 C735.95,525.52 739.85,523.78 740.50,522.70 C741.15,521.62 741.15,521.07 739.20,520.10 C737.25,519.13 731.82,517.97 728.80,516.90 C725.78,515.83 722.72,515.32 721.10,513.70 C719.48,512.08 719.43,510.12 719.10,507.20 C718.77,504.28 718.12,497.82 719.10,496.20 Z" fill="#6470f2" stroke="#fff" stroke-width="0.9" stroke-opacity="0.8"/>
<path d="M732.70,489.70 C733.13,487.87 737.47,482.92 739.20,481.30 C740.93,479.68 742.35,479.13 743.10,480.00 C743.85,480.87 744.78,484.45 743.70,486.50 C742.62,488.55 738.43,491.77 736.60,492.30 C734.77,492.83 732.27,491.53 732.70,489.70 Z" fill="#6470f2" stroke="#fff" stroke-width="0.9" stroke-opacity="0.8"/>
<path d="M771.60,519.50 C771.93,518.42 774.92,518.05 776.10,518.80 C777.28,519.55 778.60,522.38 778.70,524.00 C778.80,525.62 777.47,528.28 776.70,528.50 C775.93,528.72 774.95,526.80 774.10,525.30 C773.25,523.80 771.27,520.58 771.60,519.50 Z" fill="#6470f2" stroke="#fff" stroke-width="0.9" stroke-opacity="0.8"/>
<path d="M760.50,538.30 C760.72,537.12 762.72,536.10 763.80,536.30 C764.88,536.50 767.22,538.32 767.00,539.50 C766.78,540.68 763.58,543.60 762.50,543.40 C761.42,543.20 760.28,539.48 760.50,538.30 Z" fill="#6470f2" stroke="#fff" stroke-width="0.9" stroke-opacity="0.8"/>
<path d="M876.00,497.50 C878.50,496.83 889.50,494.75 892.50,495.00 C895.50,495.25 896.50,498.33 894.00,499.00 C891.50,499.67 880.50,499.25 877.50,499.00 C874.50,498.75 873.50,498.17 876.00,497.50 Z" fill="#6470f2" stroke="#fff" stroke-width="0.9" stroke-opacity="0.8"/>
<path d="M902.50,501.00 C903.17,500.33 909.42,499.50 910.00,500.00 C910.58,500.50 907.25,503.83 906.00,504.00 C904.75,504.17 901.83,501.67 902.50,501.00 Z" fill="#6470f2" stroke="#fff" stroke-width="0.9" stroke-opacity="0.8"/>
<path d="M914.00,495.00 C914.67,493.50 918.17,495.17 920.00,496.00 C921.83,496.83 924.83,498.17 925.00,500.00 C925.17,501.83 922.50,506.17 921.00,507.00 C919.50,507.83 917.17,507.00 916.00,505.00 C914.83,503.00 913.33,496.50 914.00,495.00 Z" fill="#6470f2" stroke="#fff" stroke-width="0.9" stroke-opacity="0.8"/>
<path d="M733.40,548.00 C734.05,547.03 736.72,545.90 737.90,546.00 C739.08,546.10 740.50,547.63 740.50,548.60 C740.50,549.57 738.98,551.27 737.90,551.80 C736.82,552.33 734.75,552.43 734.00,551.80 C733.25,551.17 732.75,548.97 733.40,548.00 Z" fill="#9a70a8" stroke="#fff" stroke-width="0.9" stroke-opacity="0.8"/>
<path d="M574.60,519.00 C574.27,518.05 575.85,517.83 577.00,518.50 C578.15,519.17 581.17,522.05 581.50,523.00 C581.83,523.95 580.15,524.87 579.00,524.20 C577.85,523.53 574.93,519.95 574.60,519.00 Z" fill="#9a70a8" stroke="#fff" stroke-width="0.9" stroke-opacity="0.8"/>
<path d="M555.60,534.60 C556.47,533.15 558.78,535.15 560.80,536.30 C562.82,537.45 564.83,540.48 567.70,541.50 C570.57,542.52 576.00,541.53 578.00,542.40 C580.00,543.27 580.27,545.12 579.70,546.70 C579.13,548.28 577.47,551.03 574.60,551.90 C571.73,552.77 565.67,553.05 562.50,551.90 C559.33,550.75 556.75,547.88 555.60,545.00 C554.45,542.12 554.73,536.05 555.60,534.60 Z" fill="#d87a3c" stroke="#fff" stroke-width="0.9" stroke-opacity="0.8"/>
<path d="M591.80,562.00 C592.38,561.13 597.35,562.92 598.80,563.80 C600.25,564.68 601.08,566.43 600.50,567.30 C599.92,568.17 596.75,569.88 595.30,569.00 C593.85,568.12 591.22,562.87 591.80,562.00 Z" fill="#d87a3c" stroke="#fff" stroke-width="0.9" stroke-opacity="0.8"/>
<path d="M692.60,522.70 C693.03,520.97 693.90,517.38 695.20,516.20 C696.50,515.02 698.90,515.17 700.40,515.60 C701.90,516.03 702.92,517.40 704.20,518.80 C705.48,520.20 706.58,523.13 708.10,524.00 C709.62,524.87 711.57,523.13 713.30,524.00 C715.03,524.87 716.98,529.20 718.50,529.20 C720.02,529.20 720.90,524.43 722.40,524.00 C723.90,523.57 725.78,524.65 727.50,526.60 C729.22,528.55 731.18,533.97 732.70,535.70 C734.22,537.43 737.25,535.50 736.60,537.00 C735.95,538.50 730.73,542.98 728.80,544.70 C726.87,546.42 725.85,547.52 725.00,547.30 C724.15,547.08 724.78,544.27 723.70,543.40 C722.62,542.53 720.88,541.88 718.50,542.10 C716.12,542.32 711.57,544.92 709.40,544.70 C707.23,544.48 707.43,543.38 705.50,540.80 C703.57,538.22 699.95,531.57 697.80,529.20 C695.65,526.83 693.47,527.68 692.60,526.60 C691.73,525.52 692.17,524.43 692.60,522.70 Z" fill="#d87a3c" stroke="#fff" stroke-width="0.9" stroke-opacity="0.8"/>
<path d="M748.30,564.10 C748.52,561.83 748.87,560.67 750.80,559.60 C752.73,558.53 757.08,557.58 759.90,557.70 C762.72,557.82 765.55,559.23 767.70,560.30 C769.85,561.37 772.15,561.95 772.80,564.10 C773.45,566.25 772.23,569.95 771.60,573.20 C770.97,576.45 770.08,580.80 769.00,583.60 C767.92,586.40 766.62,589.15 765.10,590.00 C763.58,590.85 761.20,589.98 759.90,588.70 C758.60,587.42 758.38,584.02 757.30,582.30 C756.22,580.58 754.70,579.92 753.40,578.40 C752.10,576.88 750.35,575.58 749.50,573.20 C748.65,570.82 748.08,566.37 748.30,564.10 Z" fill="#d87a3c" stroke="#fff" stroke-width="0.9" stroke-opacity="0.8"/>
<path d="M752.10,564.10 C752.85,562.70 755.13,561.32 757.30,560.90 C759.47,560.48 763.15,560.63 765.10,561.60 C767.05,562.57 768.57,563.90 769.00,566.70 C769.43,569.50 768.25,575.17 767.70,578.40 C767.15,581.63 766.78,584.82 765.70,586.10 C764.62,587.38 762.38,587.38 761.20,586.10 C760.02,584.82 759.68,580.55 758.60,578.40 C757.52,576.25 755.67,574.72 754.70,573.20 C753.73,571.68 753.23,570.82 752.80,569.30 C752.37,567.78 751.35,565.50 752.10,564.10 Z" fill="#e48b3c" stroke="#fff" stroke-width="0.9" stroke-opacity="0.8"/>
<path d="M754.70,566.70 C754.92,565.40 757.20,563.33 758.60,562.80 C760.00,562.27 762.02,562.42 763.10,563.50 C764.18,564.58 764.55,567.03 765.10,569.30 C765.65,571.57 766.83,575.70 766.40,577.10 C765.97,578.50 764.02,578.78 762.50,577.70 C760.98,576.62 758.60,572.43 757.30,570.60 C756.00,568.77 754.48,568.00 754.70,566.70 Z" fill="#e8a44a" stroke="#fff" stroke-width="0.9" stroke-opacity="0.8"/>
<path d="M714.60,534.40 C715.68,533.32 719.27,531.32 721.10,531.10 C722.93,530.88 724.95,532.12 725.60,533.10 C726.25,534.08 726.08,536.03 725.00,537.00 C723.92,537.97 720.83,538.80 719.10,538.90 C717.37,539.00 715.35,538.35 714.60,537.60 C713.85,536.85 713.52,535.48 714.60,534.40 Z" fill="#e48b3c" stroke="#fff" stroke-width="0.9" stroke-opacity="0.8"/>
<path d="M604.00,593.50 C607.20,592.33 618.58,594.13 625.00,595.30 C631.42,596.47 639.28,597.88 642.50,600.50 C645.72,603.12 645.17,607.20 644.30,611.00 C643.43,614.80 641.10,621.55 637.30,623.30 C633.50,625.05 625.88,623.25 621.50,621.50 C617.12,619.75 613.62,616.00 611.00,612.80 C608.38,609.60 606.97,605.52 605.80,602.30 C604.63,599.08 600.80,594.67 604.00,593.50 Z" fill="#e48b3c" stroke="#fff" stroke-width="0.9" stroke-opacity="0.8"/>
<path d="M653.00,623.30 C654.47,620.38 664.42,617.42 668.80,614.50 C673.18,611.58 675.80,607.25 679.30,605.80 C682.80,604.35 687.77,604.35 689.80,605.80 C691.83,607.25 689.47,611.58 691.50,614.50 C693.53,617.42 699.67,619.22 702.00,623.30 C704.33,627.38 705.20,634.63 705.50,639.00 C705.80,643.37 706.72,647.45 703.80,649.50 C700.88,651.55 692.38,651.30 688.00,651.30 C683.62,651.30 680.70,651.25 677.50,649.50 C674.30,647.75 671.72,643.72 668.80,640.80 C665.88,637.88 662.63,634.92 660.00,632.00 C657.37,629.08 651.53,626.22 653.00,623.30 Z" fill="#e48b3c" stroke="#fff" stroke-width="0.9" stroke-opacity="0.8"/>
<path d="M693.30,600.50 C695.05,599.03 700.60,597.58 703.80,597.00 C707.00,596.42 710.47,598.75 712.50,597.00 C714.53,595.25 713.67,588.53 716.00,586.50 C718.33,584.47 724.17,583.33 726.50,584.80 C728.83,586.27 727.95,592.10 730.00,595.30 C732.05,598.50 734.42,601.38 738.80,604.00 C743.18,606.62 753.10,607.50 756.30,611.00 C759.50,614.50 759.47,620.33 758.00,625.00 C756.53,629.67 752.17,634.92 747.50,639.00 C742.83,643.08 735.25,647.75 730.00,649.50 C724.75,651.25 718.62,650.37 716.00,649.50 C713.38,648.63 712.55,645.75 714.30,644.30 C716.05,642.85 723.88,642.85 726.50,640.80 C729.12,638.75 730.00,634.92 730.00,632.00 C730.00,629.08 728.83,625.63 726.50,623.30 C724.17,620.97 720.67,620.05 716.00,618.00 C711.33,615.95 702.28,613.03 698.50,611.00 C694.72,608.97 694.17,607.55 693.30,605.80 C692.43,604.05 691.55,601.97 693.30,600.50 Z" fill="#e48b3c" stroke="#fff" stroke-width="0.9" stroke-opacity="0.8"/>
<path d="M595.30,628.50 C596.75,627.18 601.67,624.38 604.00,624.10 C606.33,623.82 608.42,625.48 609.30,626.80 C610.18,628.12 610.77,630.83 609.30,632.00 C607.83,633.17 602.83,633.80 600.50,633.80 C598.17,633.80 596.17,632.88 595.30,632.00 C594.43,631.12 593.85,629.82 595.30,628.50 Z" fill="#e48b3c" stroke="#fff" stroke-width="0.9" stroke-opacity="0.8"/>
<path d="M633.80,639.00 C634.67,638.42 639.88,640.75 642.50,642.50 C645.12,644.25 648.92,648.03 649.50,649.50 C650.08,650.97 648.03,651.88 646.00,651.30 C643.97,650.72 639.33,648.05 637.30,646.00 C635.27,643.95 632.93,639.58 633.80,639.00 Z" fill="#e48b3c" stroke="#fff" stroke-width="0.9" stroke-opacity="0.8"/>
<path d="M635.00,700.00 C635.83,697.50 640.42,691.67 642.50,690.00 C644.58,688.33 647.08,687.92 647.50,690.00 C647.92,692.08 646.67,700.00 645.00,702.50 C643.33,705.00 639.17,705.42 637.50,705.00 C635.83,704.58 634.17,702.50 635.00,700.00 Z" fill="#e48b3c" stroke="#fff" stroke-width="0.9" stroke-opacity="0.8"/>
<path d="M647.50,703.75 C648.33,702.50 652.50,702.29 655.00,705.00 C657.50,707.71 662.08,717.29 662.50,720.00 C662.92,722.71 659.58,722.50 657.50,721.25 C655.42,720.00 651.67,715.42 650.00,712.50 C648.33,709.58 646.67,705.00 647.50,703.75 Z" fill="#e48b3c" stroke="#fff" stroke-width="0.9" stroke-opacity="0.8"/>
<path d="M635.00,685.00 C636.67,681.67 641.67,680.42 645.00,680.00 C648.33,679.58 654.17,679.58 655.00,682.50 C655.83,685.42 652.50,693.75 650.00,697.50 C647.50,701.25 642.50,704.58 640.00,705.00 C637.50,705.42 635.83,703.33 635.00,700.00 C634.17,696.67 633.33,688.33 635.00,685.00 Z" fill="#e48b3c" stroke="#fff" stroke-width="0.9" stroke-opacity="0.8"/>
<path d="M362.00,624.00 C362.50,622.83 365.83,622.33 367.00,623.00 C368.17,623.67 369.50,626.83 369.00,628.00 C368.50,629.17 365.17,630.67 364.00,630.00 C362.83,629.33 361.50,625.17 362.00,624.00 Z" fill="#e48b3c" stroke="#fff" stroke-width="0.9" stroke-opacity="0.8"/>
<path d="M411.00,635.00 C411.42,634.17 416.83,634.17 417.50,635.00 C418.17,635.83 416.08,640.00 415.00,640.00 C413.92,640.00 410.58,635.83 411.00,635.00 Z" fill="#e48b3c" stroke="#fff" stroke-width="0.9" stroke-opacity="0.8"/>
<path d="M88.50,662.30 C88.50,660.07 90.68,658.93 91.80,660.60 C92.92,662.27 95.20,670.07 95.20,672.30 C95.20,674.53 92.92,675.67 91.80,674.00 C90.68,672.33 88.50,664.53 88.50,662.30 Z" fill="#d87a3c" stroke="#fff" stroke-width="0.9" stroke-opacity="0.8"/>
<path d="M557.50,610.00 C560.00,607.50 570.42,606.25 572.50,607.50 C574.58,608.75 569.58,614.75 570.00,617.50 C570.42,620.25 572.92,622.92 575.00,624.00 C577.08,625.08 580.83,625.08 582.50,624.00 C584.17,622.92 585.42,619.83 585.00,617.50 C584.58,615.17 579.17,611.08 580.00,610.00 C580.83,608.92 586.58,610.53 590.00,611.00 C593.42,611.47 596.70,611.33 600.50,612.80 C604.30,614.27 608.72,617.77 612.80,619.80 C616.88,621.83 621.22,623.25 625.00,625.00 C628.78,626.75 632.58,628.55 635.50,630.30 C638.42,632.05 642.78,635.22 642.50,635.50 C642.22,635.78 637.30,633.17 633.80,632.00 C630.30,630.83 625.88,629.95 621.50,628.50 C617.12,627.05 611.87,623.88 607.50,623.30 C603.13,622.72 599.47,624.05 595.30,625.00 C591.13,625.95 587.97,628.00 582.50,629.00 C577.03,630.00 566.67,632.08 562.50,631.00 C558.33,629.92 558.33,626.00 557.50,622.50 C556.67,619.00 555.00,612.50 557.50,610.00 Z" fill="#ee0a3c" stroke="#fff" stroke-width="0.9" stroke-opacity="0.8"/>
<path d="M644.30,637.30 C645.47,637.02 653.00,639.05 656.50,640.80 C660.00,642.55 663.55,646.05 665.30,647.80 C667.05,649.55 667.58,651.02 667.00,651.30 C666.42,651.58 664.72,650.97 661.80,649.50 C658.88,648.03 652.42,644.53 649.50,642.50 C646.58,640.47 643.13,637.58 644.30,637.30 Z" fill="#ee0a3c" stroke="#fff" stroke-width="0.9" stroke-opacity="0.8"/>
<path d="M628.50,642.50 C628.80,641.92 632.33,644.53 633.80,646.00 C635.27,647.47 637.60,650.72 637.30,651.30 C637.00,651.88 633.47,650.97 632.00,649.50 C630.53,648.03 628.20,643.08 628.50,642.50 Z" fill="#ee0a3c" stroke="#fff" stroke-width="0.9" stroke-opacity="0.8"/>
<path d="M667.00,653.00 C667.42,652.83 668.70,654.17 669.00,655.00 C669.30,655.83 669.22,657.83 668.80,658.00 C668.38,658.17 666.80,656.83 666.50,656.00 C666.20,655.17 666.58,653.17 667.00,653.00 Z" fill="#ee0a3c" stroke="#fff" stroke-width="0.9" stroke-opacity="0.8"/>
<path d="M681.00,595.30 C681.80,594.97 685.63,596.13 686.30,597.00 C686.97,597.87 685.80,600.17 685.00,600.50 C684.20,600.83 682.17,599.87 681.50,599.00 C680.83,598.13 680.20,595.63 681.00,595.30 Z" fill="#ee0a3c" stroke="#fff" stroke-width="0.9" stroke-opacity="0.8"/>
<path d="M355.00,606.25 C356.67,605.42 361.67,604.54 365.00,605.00 C368.33,605.46 370.42,608.00 375.00,609.00 C379.58,610.00 392.50,610.17 392.50,611.00 C392.50,611.83 380.42,612.67 375.00,614.00 C369.58,615.33 363.33,619.67 360.00,619.00 C356.67,618.33 355.83,612.12 355.00,610.00 C354.17,607.88 353.33,607.08 355.00,606.25 Z" fill="#ee0a3c" stroke="#fff" stroke-width="0.9" stroke-opacity="0.8"/>
<path d="M478.75,557.50 C479.79,556.46 483.75,555.00 486.25,556.25 C488.75,557.50 493.96,563.33 493.75,565.00 C493.54,566.67 487.29,566.67 485.00,566.25 C482.71,565.83 481.04,563.96 480.00,562.50 C478.96,561.04 477.71,558.54 478.75,557.50 Z" fill="#ee0a3c" stroke="#fff" stroke-width="0.9" stroke-opacity="0.8"/>
<path d="M546.00,615.00 C546.33,614.50 548.33,615.17 549.00,616.00 C549.67,616.83 550.33,619.50 550.00,620.00 C549.67,620.50 547.67,619.83 547.00,619.00 C546.33,618.17 545.67,615.50 546.00,615.00 Z" fill="#ee0a3c" stroke="#fff" stroke-width="0.9" stroke-opacity="0.8"/>
<path d="M622.50,565.00 C623.96,564.38 630.62,563.12 632.50,563.75 C634.38,564.38 635.21,568.12 633.75,568.75 C632.29,569.38 625.62,568.12 623.75,567.50 C621.88,566.88 621.04,565.62 622.50,565.00 Z" fill="#e656a0" stroke="#fff" stroke-width="0.9" stroke-opacity="0.8"/>
<path d="M663.50,520.00 C664.67,518.53 672.53,518.83 674.00,520.00 C675.47,521.17 673.47,525.53 672.30,527.00 C671.13,528.47 668.47,529.97 667.00,528.80 C665.53,527.63 662.33,521.47 663.50,520.00 Z" fill="#e656a0" stroke="#fff" stroke-width="0.9" stroke-opacity="0.8"/>
<path d="M681.00,520.00 C681.58,519.12 687.42,519.12 688.00,520.00 C688.58,520.88 685.67,525.30 684.50,525.30 C683.33,525.30 680.42,520.88 681.00,520.00 Z" fill="#e656a0" stroke="#fff" stroke-width="0.9" stroke-opacity="0.8"/>
</g>
<g clip-path="url(#mc)"><line x1="41.99" y1="115.4" x2="1134" y2="115.4" stroke="#b4b4a8" stroke-width="1.6" stroke-dasharray="2.2 7.618"/><line x1="28.3" y1="115.4" x2="30.5" y2="115.4" stroke="#b4b4a8" stroke-width="1.6"/><line x1="41.99" y1="185.7" x2="1134" y2="185.7" stroke="#b4b4a8" stroke-width="1.6" stroke-dasharray="2.2 7.618"/><line x1="28.3" y1="185.7" x2="30.5" y2="185.7" stroke="#b4b4a8" stroke-width="1.6"/><line x1="41.99" y1="256.1" x2="1134" y2="256.1" stroke="#b4b4a8" stroke-width="1.6" stroke-dasharray="2.2 7.618"/><line x1="28.3" y1="256.1" x2="30.5" y2="256.1" stroke="#b4b4a8" stroke-width="1.6"/><line x1="41.99" y1="326.4" x2="1134" y2="326.4" stroke="#b4b4a8" stroke-width="1.6" stroke-dasharray="2.2 7.618"/><line x1="28.3" y1="326.4" x2="30.5" y2="326.4" stroke="#b4b4a8" stroke-width="1.6"/><line x1="41.99" y1="396.7" x2="1134" y2="396.7" stroke="#b4b4a8" stroke-width="1.6" stroke-dasharray="2.2 7.618"/><line x1="28.3" y1="396.7" x2="30.5" y2="396.7" stroke="#b4b4a8" stroke-width="1.6"/><line x1="41.99" y1="467.0" x2="1134" y2="467.0" stroke="#b4b4a8" stroke-width="1.6" stroke-dasharray="2.2 7.618"/><line x1="28.3" y1="467.0" x2="30.5" y2="467.0" stroke="#b4b4a8" stroke-width="1.6"/><line x1="41.99" y1="537.4" x2="1134" y2="537.4" stroke="#b4b4a8" stroke-width="1.6" stroke-dasharray="2.2 7.618"/><line x1="28.3" y1="537.4" x2="30.5" y2="537.4" stroke="#b4b4a8" stroke-width="1.6"/><line x1="41.99" y1="607.7" x2="1134" y2="607.7" stroke="#b4b4a8" stroke-width="1.6" stroke-dasharray="2.2 7.618"/><line x1="28.3" y1="607.7" x2="30.5" y2="607.7" stroke="#b4b4a8" stroke-width="1.6"/><line x1="41.99" y1="678.0" x2="1134" y2="678.0" stroke="#b4b4a8" stroke-width="1.6" stroke-dasharray="2.2 7.618"/><line x1="28.3" y1="678.0" x2="30.5" y2="678.0" stroke="#b4b4a8" stroke-width="1.6"/><line x1="41.99" y1="748.4" x2="1134" y2="748.4" stroke="#b4b4a8" stroke-width="1.6" stroke-dasharray="2.2 7.618"/><line x1="28.3" y1="748.4" x2="30.5" y2="748.4" stroke="#b4b4a8" stroke-width="1.6"/><line x1="41.99" y1="818.7" x2="1134" y2="818.7" stroke="#b4b4a8" stroke-width="1.6" stroke-dasharray="2.2 7.618"/><line x1="28.3" y1="818.7" x2="30.5" y2="818.7" stroke="#b4b4a8" stroke-width="1.6"/><line x1="41.99" y1="889.0" x2="1134" y2="889.0" stroke="#b4b4a8" stroke-width="1.6" stroke-dasharray="2.2 7.618"/><line x1="28.3" y1="889.0" x2="30.5" y2="889.0" stroke="#b4b4a8" stroke-width="1.6"/><line x1="131.25" y1="106.60" x2="131.25" y2="901" stroke="#b4b4a8" stroke-width="1.6" stroke-dasharray="2.2 7.618"/><line x1="131.25" y1="904.8" x2="131.25" y2="907.2" stroke="#b4b4a8" stroke-width="1.4"/><line x1="248.51" y1="106.60" x2="248.51" y2="901" stroke="#b4b4a8" stroke-width="1.6" stroke-dasharray="2.2 7.618"/><line x1="248.51" y1="904.8" x2="248.51" y2="907.2" stroke="#b4b4a8" stroke-width="1.4"/><line x1="365.77" y1="106.60" x2="365.77" y2="901" stroke="#b4b4a8" stroke-width="1.6" stroke-dasharray="2.2 7.618"/><line x1="365.77" y1="904.8" x2="365.77" y2="907.2" stroke="#b4b4a8" stroke-width="1.4"/><line x1="483.03" y1="106.60" x2="483.03" y2="901" stroke="#b4b4a8" stroke-width="1.6" stroke-dasharray="2.2 7.618"/><line x1="483.03" y1="904.8" x2="483.03" y2="907.2" stroke="#b4b4a8" stroke-width="1.4"/><line x1="600.29" y1="106.60" x2="600.29" y2="901" stroke="#b4b4a8" stroke-width="1.6" stroke-dasharray="2.2 7.618"/><line x1="600.29" y1="904.8" x2="600.29" y2="907.2" stroke="#b4b4a8" stroke-width="1.4"/><line x1="717.55" y1="106.60" x2="717.55" y2="901" stroke="#b4b4a8" stroke-width="1.6" stroke-dasharray="2.2 7.618"/><line x1="717.55" y1="904.8" x2="717.55" y2="907.2" stroke="#b4b4a8" stroke-width="1.4"/><line x1="834.81" y1="106.60" x2="834.81" y2="901" stroke="#b4b4a8" stroke-width="1.6" stroke-dasharray="2.2 7.618"/><line x1="834.81" y1="904.8" x2="834.81" y2="907.2" stroke="#b4b4a8" stroke-width="1.4"/><line x1="952.07" y1="106.60" x2="952.07" y2="901" stroke="#b4b4a8" stroke-width="1.6" stroke-dasharray="2.2 7.618"/><line x1="952.07" y1="904.8" x2="952.07" y2="907.2" stroke="#b4b4a8" stroke-width="1.4"/><line x1="1069.33" y1="106.60" x2="1069.33" y2="901" stroke="#b4b4a8" stroke-width="1.6" stroke-dasharray="2.2 7.618"/><line x1="1069.33" y1="904.8" x2="1069.33" y2="907.2" stroke="#b4b4a8" stroke-width="1.4"/></g>
<polyline points="35,199 35,207 38,204 44,203 52,206 56,210 53,213 46,213 49,217 54,221 55,214 60,215 65,219 63,224 67,228 74,227 78,224 71,222 69,218 72,217 82,216 90,218 100,224 114,232 117,237 118,244 122,241 132,243 140,241 144,243 150,239 156,239.6 162,238 168,242 170,245 176,247 179,252 178,258 174,266 171,270 166,267 163,270 165,276 172,274 180,276 183,284 177,283 174,278 164,279 160,280 158,292 161,298 168,296 175,288 180,298 188,299 198,293 204,294 211,304 216,303 213,299 222,295 228,300 234,299 240,302 244,299 252,299 258,303 266,308 278,310 280,318 290,326 298,333 304,343 310,348 320,354 330,355 336,353 344,356 349,363 350,369 344,374 340,379 336,386 330,386 318,386 310,388 290,389 270,392 260,399 252,404 250,408.75 240,410 238.75,412 231.25,412.5 230,403.75 222.5,405 207.5,412.5 187.5,413.75 170,408.75 162.5,403.75 140,402.5 130,403 107.5,398 90,402 62.5,405 52.5,403.75 35,406.25" fill="none" stroke="#000" stroke-width="1.2" stroke-linejoin="miter" stroke-miterlimit="3"/>
<polyline points="226.25,396.25 233.75,395 236.25,390 238.75,396.25 237.5,402.5 233.75,403.75 228.75,401.25 226.25,396.25" fill="none" stroke="#000" stroke-width="1.2" stroke-linejoin="miter" stroke-miterlimit="3"/>
<polyline points="181,288 188,286 190,290 183,291 181,288" fill="none" stroke="#000" stroke-width="1.2" stroke-linejoin="miter" stroke-miterlimit="3"/>
<polyline points="434,421 446,415 462,409 476,408 492,406 506,404 520,409 540,419 556,425 560,429 561,436 564,431 574,428 578,432 584,431 594,437 608,434 613,437 614,444 620,445 619,439 630,437 630,423 640,417 642,412 652,409 660,410 670,415 677.5,418.75 688.75,421.25 692.5,417.5 698.75,420 710,407.5 716.25,406.25 725,410 735,410 745,420 757.5,428.75 770,431.25 780,427.5 790,433.75 800,445 817.5,450 827.5,442.5 840,441.25 848.75,451.25 847.5,457.5 850,472.5 855,485 867.5,496.25 882.5,492.5 895,490 910,493.75 925,486.25 923.75,493.75 932.5,500 926.25,510 905,510 882.5,505 877.5,517.5 880,525 892.5,522.5 897.5,525 902.5,522.5 910,528.75 922.5,533.75 935,535 946.25,540 956.25,532.5 965,537.5 980,543.75 990,550 1005,565 1030,587.5 1031.25,595 1022.5,610 1017.5,620 1016.25,627.5 1005,628.75 1000,625 998.75,635 992.5,645 985,648.75 980,645 970,627.5 955,620 945,622.5 930,616.25 917.5,615 902.5,617.5 890,620 880,615 877.5,620 867.5,613.75 848.75,611.25 837.5,618.75 830,623.75 825,635 812.5,647.5 795,645 780,649 772,648 767,638 766,624 760,617 753,618 750,627 734,630 724,641 716,636 710,634 708,638 709,654 702,670 692,690 680,710 672,730 666,729 660,720 652,712 643,711 643,700 640,688 634,678 626,672 622,668 616,658 606,650 590,644 570,645 560,647.5 537.5,647.5 535,652.5 515,653.75 500,657.5 475,652.5 445,646.25 440,642.5 420,645 415,643.75 412.5,647.5 410,643.75 407.5,647.5 405,643.75 400,647.5 392.5,652.5 385,662.5 390,672.5 377.5,673.75 372.5,662.5 360,650 350,642.5 337.5,635 325,637.5 310,620 315,592.5 317.5,590 340,585 350,587.5 362.5,594 370,595 387.5,602.5 400,600 403.75,599 405,607.5 410,607.5 420,605 440,606.25 470,615 490,615 515,617.5 527.5,600 540,600 556,602 559,596 562,586 552,578 544,574 540,570 537.5,567.5 525,550 515,540 509,535 505,528 511,525 517,520 512,513 507,505 513,495 511,491 513,487 514,479 520,480 518,475 512,472 504,467 496,461 484,455 476,451 467,451 460,449 440,449 434,447 429,442 429,435 434,428 439,423 434,421" fill="none" stroke="#000" stroke-width="1.2" stroke-linejoin="miter" stroke-miterlimit="3"/>
<polyline points="630,423 630,437 632,451 636,465 635,479 629,493 636,503 642,511 642,521 630,534 617.5,541 625,542.5 630,547.5 632.5,560 632,572 628,580 620,586 608,590 603,592 611,610 624,626 634,632 632,638 628,648 627,656 626,672" fill="none" stroke="#000" stroke-width="1.2" stroke-linejoin="miter" stroke-miterlimit="3"/>
<polyline points="596,587 593,595 600,605 605,611 609,609 604,598 602,590 596,587" fill="none" stroke="#000" stroke-width="1.2" stroke-linejoin="miter" stroke-miterlimit="3"/>
<polyline points="623,603 638,599 658,612 656,618 646,619 636,613 624,608 623,603" fill="none" stroke="#000" stroke-width="1.2" stroke-linejoin="miter" stroke-miterlimit="3"/>
<polyline points="488.75,386.25 497.5,383.75 507.5,385 517.5,393.75 527.5,396.25 520,397.5 490,391.25 488.75,386.25" fill="none" stroke="#000" stroke-width="1.2" stroke-linejoin="miter" stroke-miterlimit="3"/>
<polyline points="448.75,546.25 457.5,542 465,545 475,548.75 500,560 505,567.5 505,578.75 492.5,575 475,571.25 460,560 450,552.5 448.75,546.25" fill="none" stroke="#000" stroke-width="1.2" stroke-linejoin="miter" stroke-miterlimit="3"/>
<polyline points="390,590 396.25,588.75 400,593.75 393.75,596.25 390,590" fill="none" stroke="#000" stroke-width="1.2" stroke-linejoin="miter" stroke-miterlimit="3"/>
<polyline points="401,666 413.75,666 407.5,669 401,666" fill="none" stroke="#000" stroke-width="1.2" stroke-linejoin="miter" stroke-miterlimit="3"/>
<polyline points="977.5,650 990,653.75 1001.25,657.5 997.5,661.25 985,661.25 980,657.5 977.5,650" fill="none" stroke="#000" stroke-width="1.2" stroke-linejoin="miter" stroke-miterlimit="3"/>
<polyline points="1077.5,663.75 1082.5,661.25 1087.5,663.75 1085,670 1078.75,667.5 1077.5,663.75" fill="none" stroke="#000" stroke-width="1.2" stroke-linejoin="miter" stroke-miterlimit="3"/>
<polyline points="655,736 658,732 661,736 658,741 655,736" fill="none" stroke="#000" stroke-width="1.2" stroke-linejoin="miter" stroke-miterlimit="3"/>
<polyline points="34.8,632 39.6,640.3 47.3,640.9 55.6,646.2 62.7,648 68.7,650.4 75.2,649.2 79.3,653.3 86.5,655.1 91.2,658.1 92.4,662.2 97.2,667 103.1,684.8 107.2,689.5 103.1,693.1 98.3,695.5 91.2,694.3 87.1,698.1 81.7,695.5 69.9,697.8 59.2,694.3 54.4,688.3 49.7,686.6 41.4,686.6 36.6,688.3 41.4,685.4 35.4,681.8" fill="none" stroke="#000" stroke-width="1.2" stroke-linejoin="miter" stroke-miterlimit="3"/>
<polyline points="400,252.5 405,250 404.5,242.5 415,237.5 422.5,230 430,229.25 436.25,226.75 442.5,231.25 450,236.25 466.25,230 470,221.25 475,211.25 480.5,209.25 482.5,216.25 480,231.25 475,242.5 466.25,258.75 452.5,263.75 427.5,266.75 402.5,265 400.75,253.75 400,252.5" fill="none" stroke="#000" stroke-width="1.2" stroke-linejoin="miter" stroke-miterlimit="3"/>
<polyline points="476.25,186.25 483.75,178.25 492.5,185 478,195.5 476.25,186.25" fill="none" stroke="#000" stroke-width="1.2" stroke-linejoin="miter" stroke-miterlimit="3"/>
<polyline points="561.8,135.5 571.5,143 580.5,143 577.5,148.3 570,149.8 564,147.5 561.8,135.5" fill="none" stroke="#000" stroke-width="1.2" stroke-linejoin="miter" stroke-miterlimit="3"/>
<polyline points="546.8,158 548.3,164.8" fill="none" stroke="#000" stroke-width="1.2" stroke-linejoin="miter" stroke-miterlimit="3"/>
<polyline points="597.8,122 606,121.3 611.3,124.3 611.3,132.5 613.5,136.7 608.3,135.8 606.8,129.5 603,128 600.8,130.3 597,125.8 597.8,122" fill="none" stroke="#000" stroke-width="1.2" stroke-linejoin="miter" stroke-miterlimit="3"/>
<polyline points="618,135.5 624,137.8 637.5,137.8 640.5,141.5 642,150.5 631.5,145.3 624,145.3 618.8,142.3 618,135.5" fill="none" stroke="#000" stroke-width="1.2" stroke-linejoin="miter" stroke-miterlimit="3"/>
<polyline points="649.5,150.5 660,153.5 663.8,159.2 654,154.3 649.5,150.5" fill="none" stroke="#000" stroke-width="1.2" stroke-linejoin="miter" stroke-miterlimit="3"/>
<polyline points="701.3,184.3 702.3,191.8" fill="none" stroke="#000" stroke-width="1.2" stroke-linejoin="miter" stroke-miterlimit="3"/>
<rect x="1144" y="98.3" width="19" height="805.4" fill="#cfcfcf"/>
<rect x="1145.7" y="99.7" width="15.6" height="802.8" fill="#fff"/>
<rect x="1145.8" y="859.56" width="15.4" height="43.64" fill="#b6c8fb"/>
<rect x="1145.8" y="814.81" width="15.4" height="43.64" fill="#8cb0fe"/>
<rect x="1145.8" y="770.07" width="15.4" height="43.64" fill="#7b92fa"/>
<rect x="1145.8" y="725.32" width="15.4" height="43.64" fill="#6470f2"/>
<rect x="1145.8" y="680.58" width="15.4" height="43.64" fill="#9a70a8"/>
<rect x="1145.8" y="635.83" width="15.4" height="43.64" fill="#e656a0"/>
<rect x="1145.8" y="591.09" width="15.4" height="43.64" fill="#ee0a3c"/>
<rect x="1145.8" y="546.34" width="15.4" height="43.64" fill="#d87a3c"/>
<rect x="1145.8" y="501.60" width="15.4" height="43.64" fill="#e48b3c"/>
<rect x="1145.8" y="456.86" width="15.4" height="43.64" fill="#e8a44a"/>
<rect x="1145.8" y="412.11" width="15.4" height="43.64" fill="#f0c878"/>
<rect x="1145.8" y="367.37" width="15.4" height="43.64" fill="#fde384"/>
<rect x="1145.8" y="322.62" width="15.4" height="43.64" fill="#fee600"/>
<rect x="1145.8" y="277.88" width="15.4" height="43.64" fill="#e0e816"/>
<rect x="1145.8" y="233.13" width="15.4" height="43.64" fill="#a6c866"/>
<rect x="1145.8" y="188.39" width="15.4" height="43.64" fill="#e2f0a0"/>
<rect x="1145.8" y="143.64" width="15.4" height="43.64" fill="#eef4d8"/>
<rect x="1145.8" y="98.90" width="15.4" height="43.64" fill="#e8e8e8"/>
<rect x="915.5" y="877" width="209" height="21" fill="#fff" stroke="#c8c8c8" stroke-width="1"/>
<text x="4.30" y="120.5" font-size="13.8" font-weight="bold" fill="#9a9a9a" textLength="21.70" lengthAdjust="spacingAndGlyphs">22N</text>
<text x="0.60" y="190.83" font-size="13.8" font-weight="bold" fill="#9a9a9a" textLength="25.40" lengthAdjust="spacingAndGlyphs">1.5N</text>
<text x="4.30" y="261.16" font-size="13.8" font-weight="bold" fill="#9a9a9a" textLength="21.70" lengthAdjust="spacingAndGlyphs">21N</text>
<text x="1.60" y="331.49" font-size="13.8" font-weight="bold" fill="#9a9a9a" textLength="24.40" lengthAdjust="spacingAndGlyphs">0.5N</text>
<text x="4.30" y="401.82" font-size="13.8" font-weight="bold" fill="#9a9a9a" textLength="21.70" lengthAdjust="spacingAndGlyphs">20N</text>
<text x="1.60" y="472.15" font-size="13.8" font-weight="bold" fill="#9a9a9a" textLength="24.40" lengthAdjust="spacingAndGlyphs">9.5N</text>
<text x="3.30" y="542.48" font-size="13.8" font-weight="bold" fill="#9a9a9a" textLength="22.70" lengthAdjust="spacingAndGlyphs">19N</text>
<text x="1.60" y="612.81" font-size="13.8" font-weight="bold" fill="#9a9a9a" textLength="24.40" lengthAdjust="spacingAndGlyphs">8.5N</text>
<text x="3.30" y="683.14" font-size="13.8" font-weight="bold" fill="#9a9a9a" textLength="22.70" lengthAdjust="spacingAndGlyphs">18N</text>
<text x="1.60" y="753.47" font-size="13.8" font-weight="bold" fill="#9a9a9a" textLength="24.40" lengthAdjust="spacingAndGlyphs">7.5N</text>
<text x="3.30" y="823.8" font-size="13.8" font-weight="bold" fill="#9a9a9a" textLength="22.70" lengthAdjust="spacingAndGlyphs">17N</text>
<text x="1.60" y="894.13" font-size="13.8" font-weight="bold" fill="#9a9a9a" textLength="24.40" lengthAdjust="spacingAndGlyphs">6.5N</text>
<text x="120.35" y="918.75" font-size="13.8" font-weight="bold" fill="#9a9a9a" textLength="21.80" lengthAdjust="spacingAndGlyphs">76W</text>
<text x="236.81" y="918.75" font-size="13.8" font-weight="bold" fill="#9a9a9a" textLength="22.80" lengthAdjust="spacingAndGlyphs">75W</text>
<text x="354.27" y="918.75" font-size="13.8" font-weight="bold" fill="#9a9a9a" textLength="22.80" lengthAdjust="spacingAndGlyphs">74W</text>
<text x="471.73" y="918.75" font-size="13.8" font-weight="bold" fill="#9a9a9a" textLength="21.80" lengthAdjust="spacingAndGlyphs">73W</text>
<text x="589.19" y="918.75" font-size="13.8" font-weight="bold" fill="#9a9a9a" textLength="21.80" lengthAdjust="spacingAndGlyphs">72W</text>
<text x="706.65" y="918.75" font-size="13.8" font-weight="bold" fill="#9a9a9a" textLength="21.80" lengthAdjust="spacingAndGlyphs">71W</text>
<text x="823.11" y="918.75" font-size="13.8" font-weight="bold" fill="#9a9a9a" textLength="22.80" lengthAdjust="spacingAndGlyphs">70W</text>
<text x="940.57" y="918.75" font-size="13.8" font-weight="bold" fill="#9a9a9a" textLength="22.80" lengthAdjust="spacingAndGlyphs">69W</text>
<text x="1058.03" y="918.75" font-size="13.8" font-weight="bold" fill="#9a9a9a" textLength="21.80" lengthAdjust="spacingAndGlyphs">68W</text>
<text x="1165.20" y="864.06" font-size="13.4" font-weight="normal" fill="#000" textLength="26.50" lengthAdjust="spacingAndGlyphs">5.64</text>
<text x="1165.20" y="819.31" font-size="13.4" font-weight="normal" fill="#000" textLength="34.70" lengthAdjust="spacingAndGlyphs">5.652</text>
<text x="1165.20" y="774.57" font-size="13.4" font-weight="normal" fill="#000" textLength="34.70" lengthAdjust="spacingAndGlyphs">5.664</text>
<text x="1165.20" y="729.82" font-size="13.4" font-weight="normal" fill="#000" textLength="34.70" lengthAdjust="spacingAndGlyphs">5.676</text>
<text x="1165.20" y="685.08" font-size="13.4" font-weight="normal" fill="#000" textLength="34.70" lengthAdjust="spacingAndGlyphs">5.688</text>
<text x="1165.20" y="640.33" font-size="13.4" font-weight="normal" fill="#000" textLength="18.00" lengthAdjust="spacingAndGlyphs">5.7</text>
<text x="1165.20" y="595.59" font-size="13.4" font-weight="normal" fill="#000" textLength="34.70" lengthAdjust="spacingAndGlyphs">5.712</text>
<text x="1165.20" y="550.84" font-size="13.4" font-weight="normal" fill="#000" textLength="34.70" lengthAdjust="spacingAndGlyphs">5.724</text>
<text x="1165.20" y="506.1" font-size="13.4" font-weight="normal" fill="#000" textLength="34.70" lengthAdjust="spacingAndGlyphs">5.736</text>
<text x="1165.20" y="461.36" font-size="13.4" font-weight="normal" fill="#000" textLength="34.70" lengthAdjust="spacingAndGlyphs">5.748</text>
<text x="1165.20" y="416.61" font-size="13.4" font-weight="normal" fill="#000" textLength="27.50" lengthAdjust="spacingAndGlyphs">5.76</text>
<text x="1165.20" y="371.87" font-size="13.4" font-weight="normal" fill="#000" textLength="34.70" lengthAdjust="spacingAndGlyphs">5.772</text>
<text x="1165.20" y="327.12" font-size="13.4" font-weight="normal" fill="#000" textLength="34.70" lengthAdjust="spacingAndGlyphs">5.783</text>
<text x="1165.20" y="282.38" font-size="13.4" font-weight="normal" fill="#000" textLength="34.70" lengthAdjust="spacingAndGlyphs">5.795</text>
<text x="1165.20" y="237.63" font-size="13.4" font-weight="normal" fill="#000" textLength="34.70" lengthAdjust="spacingAndGlyphs">5.807</text>
<text x="1165.20" y="192.89" font-size="13.4" font-weight="normal" fill="#000" textLength="34.70" lengthAdjust="spacingAndGlyphs">5.819</text>
<text x="1165.20" y="148.14" font-size="13.4" font-weight="normal" fill="#000" textLength="34.70" lengthAdjust="spacingAndGlyphs">5.831</text>
<text x="929.70" y="894.1" font-size="16.5" font-weight="normal" fill="#1aa0f0" textLength="22.30" lengthAdjust="spacingAndGlyphs">Sis</text>
<path d="M954.6,886.2 Q955.5,884.6 958,884.9 L966,884.5 Q969,884.2 970.6,882.9 M958.3,885 Q958.6,890 957.3,893.6 M965.8,884.6 Q965.6,890 967.2,893.2 L968.3,892.2" fill="none" stroke="#2a32f0" stroke-width="1.6" stroke-linecap="round" stroke-linejoin="round"/>
<text x="974.70" y="894.1" font-size="16.5" font-weight="normal" fill="#404040" textLength="8.00" lengthAdjust="spacingAndGlyphs">–</text>
<text x="991.50" y="894.1" font-size="16.5" font-weight="normal" fill="#484848" textLength="126.80" lengthAdjust="spacingAndGlyphs">ONAMET/REP.DOM.</text>
</svg></body></html>
